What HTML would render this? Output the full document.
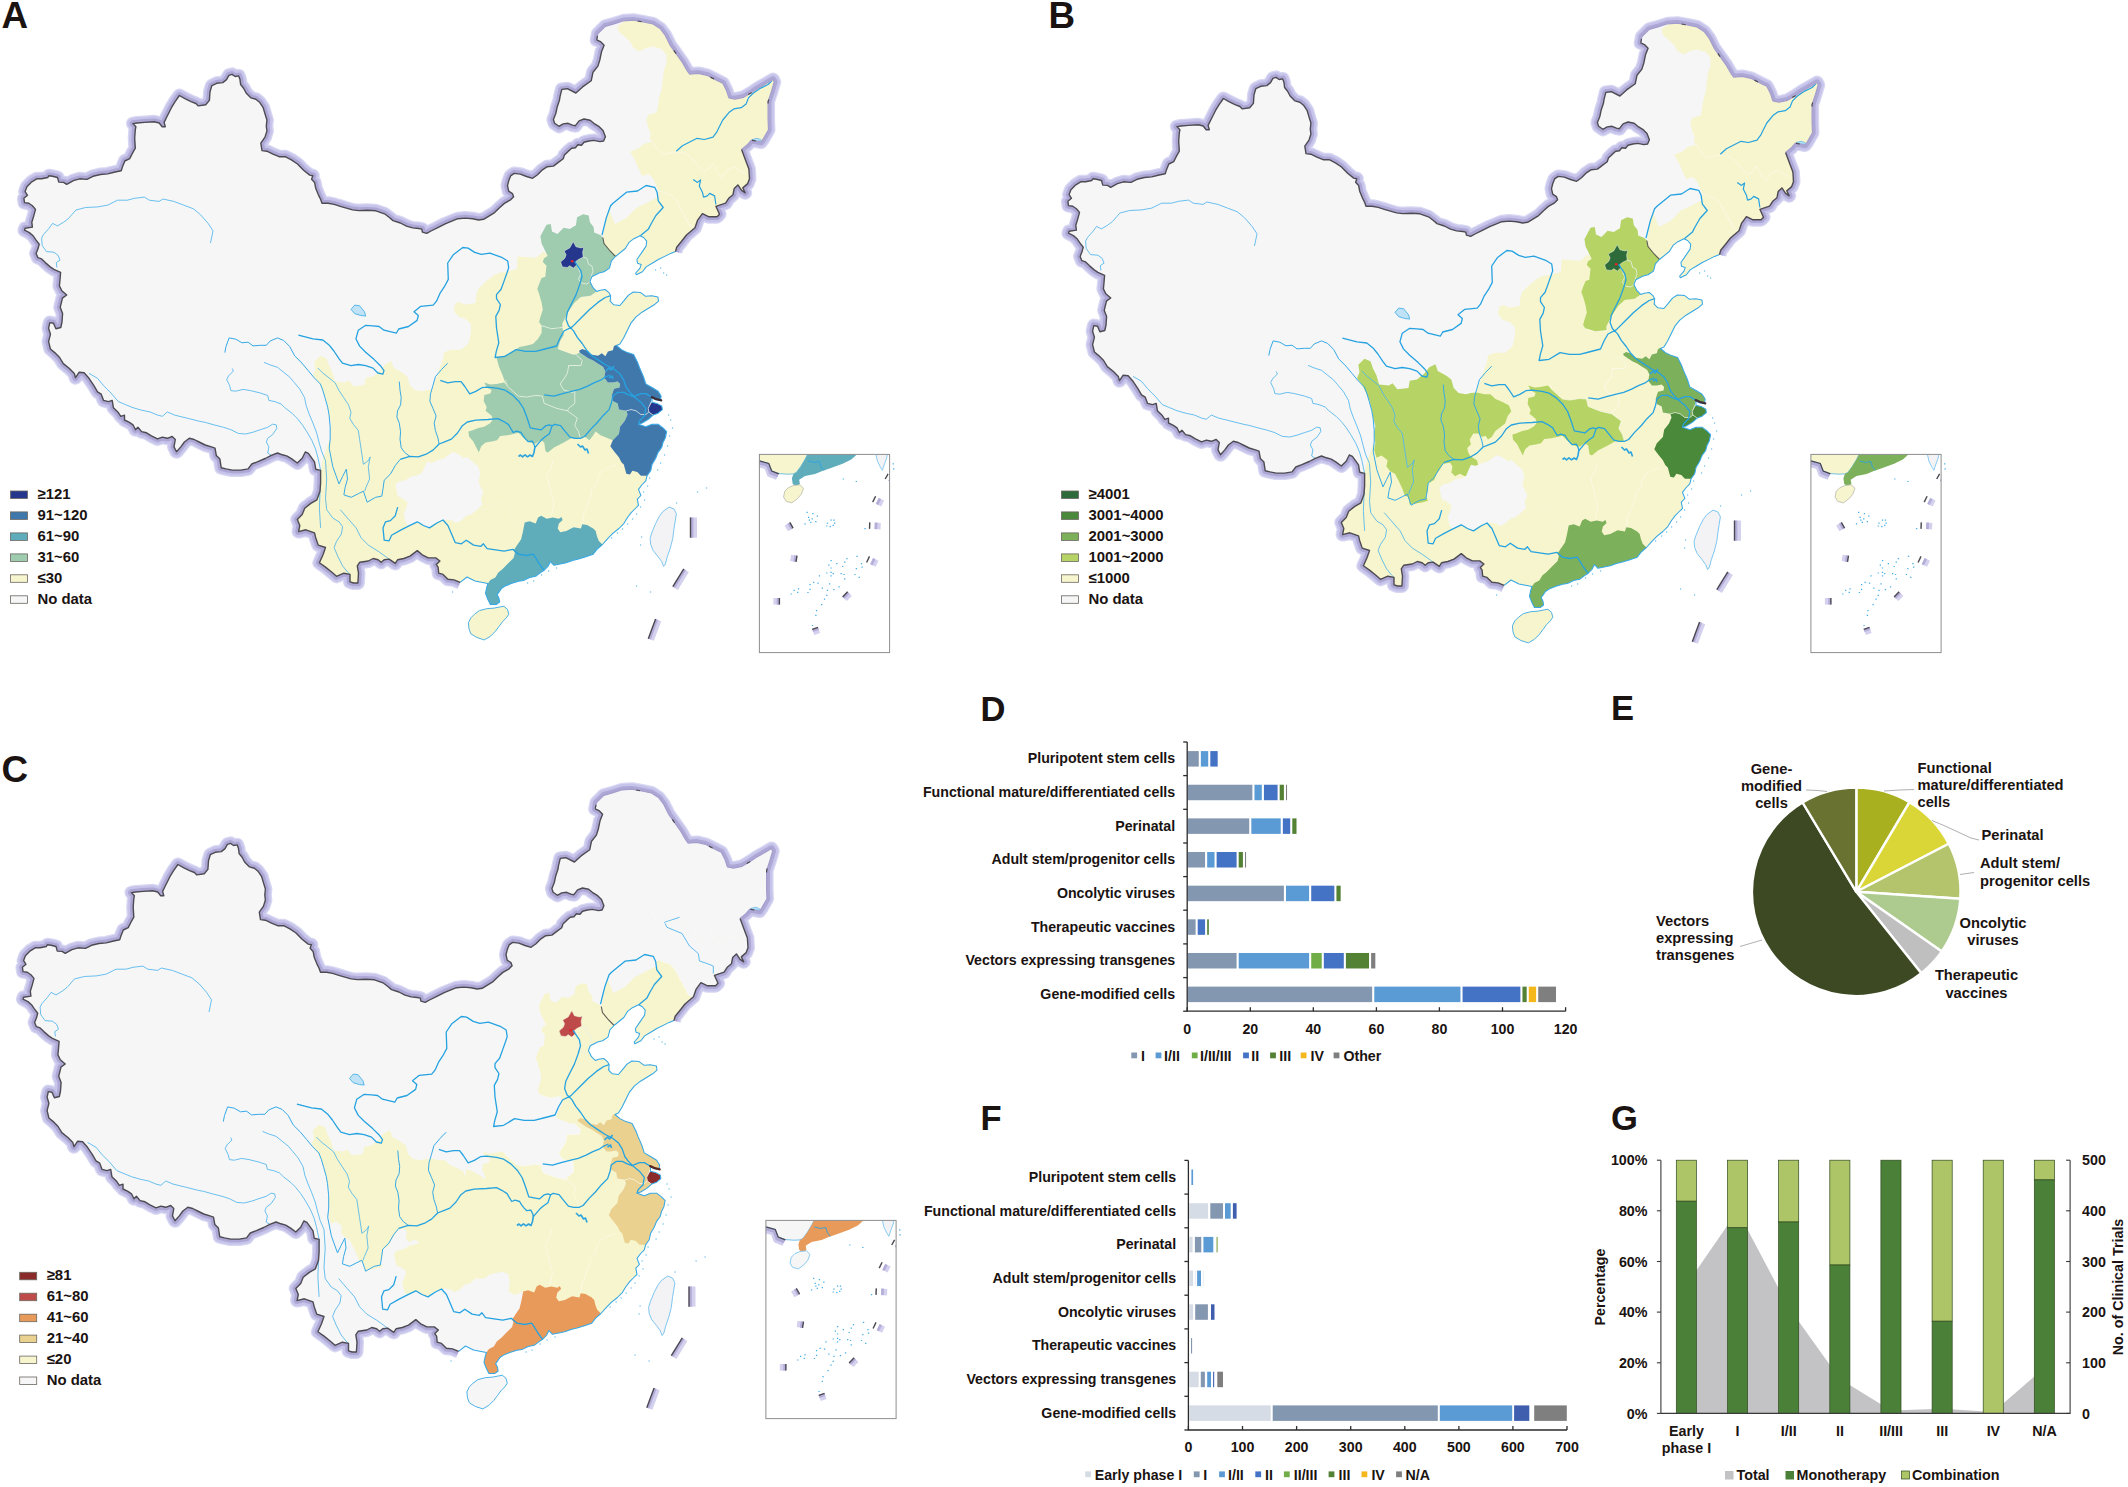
<!DOCTYPE html><html><head><meta charset="utf-8"><title>Figure</title><style>html,body{margin:0;padding:0;background:#fff}svg{display:block}</style></head><body>
<svg width="2128" height="1487" viewBox="0 0 2128 1487">
<rect width="2128" height="1487" fill="#fff"/>
<defs>
<clipPath id="cn"><path d="M23.9 198.3 L27.5 195.3 L25.1 191.6 L26.9 186.7 L31.8 181.8 L36.7 178.8 L41.6 178.8 L47.7 177.5 L49.0 175.7 L52.6 176.3 L57.5 177.5 L58.8 182.1 L63.6 182.4 L66.7 184.3 L73.4 180.6 L79.6 178.8 L86.9 179.4 L93.0 176.3 L100.4 174.5 L107.7 173.9 L115.1 172.0 L121.2 170.8 L122.4 167.1 L124.8 161.0 L129.7 158.6 L132.2 153.7 L135.3 148.1 L134.7 138.3 L135.3 129.8 L135.9 126.7 L132.9 123.6 L137.1 123.0 L144.5 122.4 L154.3 121.8 L159.2 123.0 L162.2 126.7 L165.3 126.7 L164.1 122.4 L166.5 117.5 L171.4 107.7 L175.1 101.6 L179.4 95.5 L184.9 98.6 L191.0 101.6 L195.9 103.5 L198.3 105.9 L205.7 104.7 L209.4 100.4 L210.0 91.8 L211.8 85.7 L216.7 83.3 L222.8 82.6 L226.5 79.6 L228.9 75.3 L232.0 74.4 L235.1 76.5 L238.7 75.9 L240.0 79.6 L240.6 84.5 L243.6 88.2 L246.1 93.0 L251.0 97.9 L255.9 99.2 L259.5 102.2 L263.2 107.7 L265.0 113.9 L266.9 120.0 L266.3 126.1 L266.9 131.0 L265.0 137.1 L260.8 143.2 L262.0 150.6 L266.9 151.2 L273.0 154.2 L279.1 156.7 L285.2 156.7 L291.4 159.8 L297.5 164.0 L303.6 170.2 L309.7 175.1 L312.8 175.7 L311.6 179.3 L314.6 182.4 L315.8 188.5 L318.3 194.6 L320.7 199.5 L322.0 203.2 L328.1 203.2 L334.2 204.4 L340.3 206.3 L346.4 208.1 L352.6 209.9 L358.7 210.6 L367.3 210.2 L375.9 210.8 L384.5 213.8 L389.4 217.5 L393.0 220.6 L400.4 223.0 L406.5 226.1 L412.6 227.9 L418.8 228.5 L421.8 229.1 L422.4 232.2 L426.7 233.4 L431.0 231.0 L438.3 227.3 L445.7 223.6 L453.0 220.6 L457.9 218.7 L465.3 218.1 L472.6 218.7 L478.7 220.0 L483.6 219.3 L488.5 216.3 L494.6 212.6 L499.5 207.7 L504.4 203.4 L510.6 199.8 L513.6 196.7 L512.4 193.6 L508.7 191.2 L507.5 185.7 L508.7 180.8 L510.6 175.9 L514.2 173.4 L520.3 174.1 L526.5 176.5 L532.6 178.3 L537.5 174.7 L542.4 169.8 L547.3 166.7 L553.4 166.1 L558.3 162.4 L563.2 158.8 L564.4 155.1 L568.1 151.4 L571.7 148.3 L575.4 147.7 L577.9 144.7 L581.5 145.3 L584.0 142.2 L588.9 141.0 L593.8 140.4 L599.9 141.6 L603.6 141.0 L605.4 136.7 L603.0 130.6 L598.7 126.3 L593.8 123.3 L590.1 120.2 L584.0 119.0 L579.1 120.8 L575.4 125.7 L572.4 125.1 L568.1 123.3 L563.2 123.9 L558.9 126.3 L554.6 123.3 L553.4 119.6 L555.8 113.5 L557.1 107.3 L559.5 100.0 L560.0 96.7 L561.8 89.4 L567.3 88.7 L575.9 93.0 L582.6 86.9 L591.2 80.8 L593.0 72.2 L597.9 66.1 L599.8 60.0 L601.6 51.4 L604.1 45.3 L600.4 41.6 L596.7 39.8 L597.9 33.7 L605.3 26.3 L613.9 23.9 L623.6 20.8 L633.4 20.2 L643.2 22.0 L653.0 23.9 L660.4 28.8 L665.3 35.5 L670.2 45.3 L676.3 53.9 L682.4 62.4 L687.3 71.0 L689.7 74.1 L698.3 73.4 L706.9 75.3 L715.4 79.6 L722.8 83.2 L726.5 90.6 L728.9 97.9 L735.0 99.1 L743.6 97.3 L750.9 93.0 L758.3 88.1 L766.8 83.2 L773.0 79.6 L774.2 82.0 L771.7 90.6 L768.1 101.6 L768.1 110.2 L768.1 120.0 L768.5 129.8 L763.6 138.4 L761.1 142.0 L751.4 140.2 L747.7 144.5 L741.6 149.4 L745.2 159.2 L748.9 169.0 L749.5 178.8 L747.7 183.6 L742.8 187.9 L745.2 192.8 L741.6 190.4 L737.9 184.9 L734.2 188.5 L733.0 194.7 L728.7 198.3 L725.6 203.2 L715.9 206.3 L719.5 214.2 L717.1 216.7 L708.5 216.7 L702.4 213.6 L697.5 220.4 L695.0 227.7 L686.5 235.0 L681.6 241.2 L676.7 247.3 L675.5 251.6 L670.6 253.4 L665.7 255.9 L658.3 259.5 L652.2 263.2 L646.1 266.9 L642.4 271.8 L636.3 274.8 L635.7 273.0 L640.0 268.1 L641.2 264.4 L637.5 263.2 L636.9 259.5 L641.2 253.4 L646.1 246.1 L646.7 241.2 L643.6 237.5 L640.0 235.7 L633.9 238.7 L629.0 242.4 L625.3 248.5 L615.5 256.5 L611.4 260.8 L609.5 268.1 L604.0 271.8 L599.1 273.0 L591.8 276.7 L589.9 281.6 L593.0 287.7 L596.7 291.4 L600.3 290.2 L605.2 289.5 L608.9 292.6 L610.7 295.7 L610.1 301.2 L613.8 304.8 L619.9 305.5 L623.6 301.2 L628.5 295.1 L633.4 292.0 L640.7 292.6 L645.6 296.3 L651.8 295.7 L657.9 296.9 L658.5 301.2 L654.2 304.8 L648.1 308.5 L642.0 312.2 L635.8 317.1 L630.9 323.2 L627.3 330.6 L623.6 337.9 L619.9 344.0 L616.5 345.5 L621.4 349.6 L627.5 352.6 L633.6 354.5 L637.3 361.8 L639.7 367.9 L643.4 376.5 L645.8 383.9 L652.0 387.5 L658.1 391.2 L661.1 396.1 L660.5 400.4 L655.6 399.8 L652.0 397.9 L652.0 402.2 L656.9 403.4 L661.7 405.9 L662.4 409.6 L658.1 413.2 L653.2 415.1 L648.3 419.4 L642.2 423.0 L638.5 424.2 L645.8 426.7 L652.0 424.2 L658.1 424.2 L663.0 427.9 L666.6 431.6 L665.4 437.7 L663.0 442.6 L661.7 447.5 L658.1 452.4 L655.6 458.5 L652.0 464.6 L650.7 470.8 L647.1 475.7 L645.8 480.8 L642.2 484.5 L638.5 489.4 L640.9 495.5 L637.3 499.2 L638.5 505.3 L634.8 509.0 L631.2 512.6 L627.5 517.5 L623.8 523.6 L618.9 528.5 L612.8 533.4 L607.9 538.3 L602.4 544.5 L596.9 549.4 L593.2 554.2 L585.9 556.7 L578.5 559.1 L572.4 560.4 L566.3 562.8 L560.2 564.0 L554.0 565.3 L550.4 561.6 L547.9 566.5 L544.2 570.2 L540.6 572.6 L535.7 576.3 L529.6 577.5 L523.4 580.6 L518.5 581.2 L511.2 583.6 L505.1 586.1 L501.4 588.5 L499.0 592.2 L497.1 594.6 L499.0 598.3 L499.6 602.0 L496.5 604.4 L490.4 604.4 L487.9 599.5 L485.5 593.4 L486.7 587.3 L487.9 583.6 L480.0 582.0 L475.0 581.0 L467.0 577.0 L460.1 582.4 L454.0 579.9 L447.9 579.3 L443.0 574.4 L438.7 573.2 L438.1 567.1 L436.3 564.6 L439.9 561.0 L435.7 557.9 L428.3 557.9 L422.2 554.8 L417.3 550.6 L410.0 556.1 L403.8 558.5 L397.7 559.7 L395.3 563.4 L389.1 559.1 L384.2 559.7 L381.2 562.2 L378.1 559.7 L373.2 558.5 L368.3 561.0 L359.8 562.2 L357.3 565.9 L358.5 573.2 L357.9 583.0 L353.6 583.0 L350.0 581.8 L350.0 574.4 L343.9 573.2 L336.5 576.3 L331.6 572.0 L325.5 567.1 L319.4 562.8 L323.0 554.8 L325.5 547.5 L318.2 545.1 L315.7 537.7 L314.5 532.8 L305.9 529.8 L298.6 531.6 L299.8 525.5 L297.3 519.4 L302.2 514.5 L304.7 508.3 L310.8 503.4 L316.9 499.8 L320.0 491.2 L320.6 482.6 L320.6 470.4 L315.7 469.2 L314.5 461.8 L308.4 453.3 L305.3 452.0 L302.2 458.2 L297.3 463.0 L292.1 459.1 L287.2 456.1 L282.4 454.8 L277.5 453.0 L271.3 455.4 L265.2 458.5 L257.9 461.6 L251.8 464.0 L248.1 468.9 L240.7 470.1 L232.2 470.1 L226.0 468.9 L221.2 467.7 L219.9 459.1 L216.3 455.4 L215.0 448.1 L211.4 446.9 L205.2 445.0 L199.1 442.0 L194.2 439.5 L189.3 438.3 L184.4 442.0 L180.8 446.9 L176.5 451.8 L174.0 446.9 L175.3 439.5 L172.2 436.5 L167.3 438.3 L162.4 437.1 L157.5 438.9 L151.4 435.9 L146.5 432.8 L141.6 431.6 L137.9 427.3 L135.5 429.7 L133.0 424.8 L129.4 422.4 L124.5 420.0 L124.5 415.1 L120.8 416.3 L118.3 412.6 L113.4 407.7 L112.2 400.4 L108.5 401.6 L103.6 400.4 L101.2 394.2 L97.5 391.8 L93.9 385.7 L89.0 378.3 L84.1 372.8 L79.2 372.2 L75.5 377.7 L74.3 373.4 L69.4 368.5 L63.3 363.6 L59.6 357.5 L54.7 352.6 L50.4 349.0 L48.6 341.6 L50.4 334.3 L48.6 328.2 L49.8 322.6 L53.5 323.3 L55.9 328.8 L60.8 327.5 L62.0 322.0 L62.6 313.5 L60.2 307.3 L62.0 300.0 L62.4 298.1 L66.7 295.0 L61.8 290.8 L59.4 285.9 L60.0 279.7 L60.6 272.4 L53.9 269.3 L50.2 266.9 L45.3 262.6 L41.6 258.9 L37.9 257.7 L36.1 253.4 L37.9 249.1 L39.2 244.2 L35.5 239.4 L33.0 235.7 L29.4 232.6 L24.5 230.2 L25.1 228.3 L32.4 227.1 L31.8 222.2 L33.7 216.1 L35.5 209.4 L32.4 205.7 L28.8 203.2 L24.5 202.6Z"/></clipPath>
<path id="countryp" d="M23.9 198.3 L27.5 195.3 L25.1 191.6 L26.9 186.7 L31.8 181.8 L36.7 178.8 L41.6 178.8 L47.7 177.5 L49.0 175.7 L52.6 176.3 L57.5 177.5 L58.8 182.1 L63.6 182.4 L66.7 184.3 L73.4 180.6 L79.6 178.8 L86.9 179.4 L93.0 176.3 L100.4 174.5 L107.7 173.9 L115.1 172.0 L121.2 170.8 L122.4 167.1 L124.8 161.0 L129.7 158.6 L132.2 153.7 L135.3 148.1 L134.7 138.3 L135.3 129.8 L135.9 126.7 L132.9 123.6 L137.1 123.0 L144.5 122.4 L154.3 121.8 L159.2 123.0 L162.2 126.7 L165.3 126.7 L164.1 122.4 L166.5 117.5 L171.4 107.7 L175.1 101.6 L179.4 95.5 L184.9 98.6 L191.0 101.6 L195.9 103.5 L198.3 105.9 L205.7 104.7 L209.4 100.4 L210.0 91.8 L211.8 85.7 L216.7 83.3 L222.8 82.6 L226.5 79.6 L228.9 75.3 L232.0 74.4 L235.1 76.5 L238.7 75.9 L240.0 79.6 L240.6 84.5 L243.6 88.2 L246.1 93.0 L251.0 97.9 L255.9 99.2 L259.5 102.2 L263.2 107.7 L265.0 113.9 L266.9 120.0 L266.3 126.1 L266.9 131.0 L265.0 137.1 L260.8 143.2 L262.0 150.6 L266.9 151.2 L273.0 154.2 L279.1 156.7 L285.2 156.7 L291.4 159.8 L297.5 164.0 L303.6 170.2 L309.7 175.1 L312.8 175.7 L311.6 179.3 L314.6 182.4 L315.8 188.5 L318.3 194.6 L320.7 199.5 L322.0 203.2 L328.1 203.2 L334.2 204.4 L340.3 206.3 L346.4 208.1 L352.6 209.9 L358.7 210.6 L367.3 210.2 L375.9 210.8 L384.5 213.8 L389.4 217.5 L393.0 220.6 L400.4 223.0 L406.5 226.1 L412.6 227.9 L418.8 228.5 L421.8 229.1 L422.4 232.2 L426.7 233.4 L431.0 231.0 L438.3 227.3 L445.7 223.6 L453.0 220.6 L457.9 218.7 L465.3 218.1 L472.6 218.7 L478.7 220.0 L483.6 219.3 L488.5 216.3 L494.6 212.6 L499.5 207.7 L504.4 203.4 L510.6 199.8 L513.6 196.7 L512.4 193.6 L508.7 191.2 L507.5 185.7 L508.7 180.8 L510.6 175.9 L514.2 173.4 L520.3 174.1 L526.5 176.5 L532.6 178.3 L537.5 174.7 L542.4 169.8 L547.3 166.7 L553.4 166.1 L558.3 162.4 L563.2 158.8 L564.4 155.1 L568.1 151.4 L571.7 148.3 L575.4 147.7 L577.9 144.7 L581.5 145.3 L584.0 142.2 L588.9 141.0 L593.8 140.4 L599.9 141.6 L603.6 141.0 L605.4 136.7 L603.0 130.6 L598.7 126.3 L593.8 123.3 L590.1 120.2 L584.0 119.0 L579.1 120.8 L575.4 125.7 L572.4 125.1 L568.1 123.3 L563.2 123.9 L558.9 126.3 L554.6 123.3 L553.4 119.6 L555.8 113.5 L557.1 107.3 L559.5 100.0 L560.0 96.7 L561.8 89.4 L567.3 88.7 L575.9 93.0 L582.6 86.9 L591.2 80.8 L593.0 72.2 L597.9 66.1 L599.8 60.0 L601.6 51.4 L604.1 45.3 L600.4 41.6 L596.7 39.8 L597.9 33.7 L605.3 26.3 L613.9 23.9 L623.6 20.8 L633.4 20.2 L643.2 22.0 L653.0 23.9 L660.4 28.8 L665.3 35.5 L670.2 45.3 L676.3 53.9 L682.4 62.4 L687.3 71.0 L689.7 74.1 L698.3 73.4 L706.9 75.3 L715.4 79.6 L722.8 83.2 L726.5 90.6 L728.9 97.9 L735.0 99.1 L743.6 97.3 L750.9 93.0 L758.3 88.1 L766.8 83.2 L773.0 79.6 L774.2 82.0 L771.7 90.6 L768.1 101.6 L768.1 110.2 L768.1 120.0 L768.5 129.8 L763.6 138.4 L761.1 142.0 L751.4 140.2 L747.7 144.5 L741.6 149.4 L745.2 159.2 L748.9 169.0 L749.5 178.8 L747.7 183.6 L742.8 187.9 L745.2 192.8 L741.6 190.4 L737.9 184.9 L734.2 188.5 L733.0 194.7 L728.7 198.3 L725.6 203.2 L715.9 206.3 L719.5 214.2 L717.1 216.7 L708.5 216.7 L702.4 213.6 L697.5 220.4 L695.0 227.7 L686.5 235.0 L681.6 241.2 L676.7 247.3 L675.5 251.6 L670.6 253.4 L665.7 255.9 L658.3 259.5 L652.2 263.2 L646.1 266.9 L642.4 271.8 L636.3 274.8 L635.7 273.0 L640.0 268.1 L641.2 264.4 L637.5 263.2 L636.9 259.5 L641.2 253.4 L646.1 246.1 L646.7 241.2 L643.6 237.5 L640.0 235.7 L633.9 238.7 L629.0 242.4 L625.3 248.5 L615.5 256.5 L611.4 260.8 L609.5 268.1 L604.0 271.8 L599.1 273.0 L591.8 276.7 L589.9 281.6 L593.0 287.7 L596.7 291.4 L600.3 290.2 L605.2 289.5 L608.9 292.6 L610.7 295.7 L610.1 301.2 L613.8 304.8 L619.9 305.5 L623.6 301.2 L628.5 295.1 L633.4 292.0 L640.7 292.6 L645.6 296.3 L651.8 295.7 L657.9 296.9 L658.5 301.2 L654.2 304.8 L648.1 308.5 L642.0 312.2 L635.8 317.1 L630.9 323.2 L627.3 330.6 L623.6 337.9 L619.9 344.0 L616.5 345.5 L621.4 349.6 L627.5 352.6 L633.6 354.5 L637.3 361.8 L639.7 367.9 L643.4 376.5 L645.8 383.9 L652.0 387.5 L658.1 391.2 L661.1 396.1 L660.5 400.4 L655.6 399.8 L652.0 397.9 L652.0 402.2 L656.9 403.4 L661.7 405.9 L662.4 409.6 L658.1 413.2 L653.2 415.1 L648.3 419.4 L642.2 423.0 L638.5 424.2 L645.8 426.7 L652.0 424.2 L658.1 424.2 L663.0 427.9 L666.6 431.6 L665.4 437.7 L663.0 442.6 L661.7 447.5 L658.1 452.4 L655.6 458.5 L652.0 464.6 L650.7 470.8 L647.1 475.7 L645.8 480.8 L642.2 484.5 L638.5 489.4 L640.9 495.5 L637.3 499.2 L638.5 505.3 L634.8 509.0 L631.2 512.6 L627.5 517.5 L623.8 523.6 L618.9 528.5 L612.8 533.4 L607.9 538.3 L602.4 544.5 L596.9 549.4 L593.2 554.2 L585.9 556.7 L578.5 559.1 L572.4 560.4 L566.3 562.8 L560.2 564.0 L554.0 565.3 L550.4 561.6 L547.9 566.5 L544.2 570.2 L540.6 572.6 L535.7 576.3 L529.6 577.5 L523.4 580.6 L518.5 581.2 L511.2 583.6 L505.1 586.1 L501.4 588.5 L499.0 592.2 L497.1 594.6 L499.0 598.3 L499.6 602.0 L496.5 604.4 L490.4 604.4 L487.9 599.5 L485.5 593.4 L486.7 587.3 L487.9 583.6 L480.0 582.0 L475.0 581.0 L467.0 577.0 L460.1 582.4 L454.0 579.9 L447.9 579.3 L443.0 574.4 L438.7 573.2 L438.1 567.1 L436.3 564.6 L439.9 561.0 L435.7 557.9 L428.3 557.9 L422.2 554.8 L417.3 550.6 L410.0 556.1 L403.8 558.5 L397.7 559.7 L395.3 563.4 L389.1 559.1 L384.2 559.7 L381.2 562.2 L378.1 559.7 L373.2 558.5 L368.3 561.0 L359.8 562.2 L357.3 565.9 L358.5 573.2 L357.9 583.0 L353.6 583.0 L350.0 581.8 L350.0 574.4 L343.9 573.2 L336.5 576.3 L331.6 572.0 L325.5 567.1 L319.4 562.8 L323.0 554.8 L325.5 547.5 L318.2 545.1 L315.7 537.7 L314.5 532.8 L305.9 529.8 L298.6 531.6 L299.8 525.5 L297.3 519.4 L302.2 514.5 L304.7 508.3 L310.8 503.4 L316.9 499.8 L320.0 491.2 L320.6 482.6 L320.6 470.4 L315.7 469.2 L314.5 461.8 L308.4 453.3 L305.3 452.0 L302.2 458.2 L297.3 463.0 L292.1 459.1 L287.2 456.1 L282.4 454.8 L277.5 453.0 L271.3 455.4 L265.2 458.5 L257.9 461.6 L251.8 464.0 L248.1 468.9 L240.7 470.1 L232.2 470.1 L226.0 468.9 L221.2 467.7 L219.9 459.1 L216.3 455.4 L215.0 448.1 L211.4 446.9 L205.2 445.0 L199.1 442.0 L194.2 439.5 L189.3 438.3 L184.4 442.0 L180.8 446.9 L176.5 451.8 L174.0 446.9 L175.3 439.5 L172.2 436.5 L167.3 438.3 L162.4 437.1 L157.5 438.9 L151.4 435.9 L146.5 432.8 L141.6 431.6 L137.9 427.3 L135.5 429.7 L133.0 424.8 L129.4 422.4 L124.5 420.0 L124.5 415.1 L120.8 416.3 L118.3 412.6 L113.4 407.7 L112.2 400.4 L108.5 401.6 L103.6 400.4 L101.2 394.2 L97.5 391.8 L93.9 385.7 L89.0 378.3 L84.1 372.8 L79.2 372.2 L75.5 377.7 L74.3 373.4 L69.4 368.5 L63.3 363.6 L59.6 357.5 L54.7 352.6 L50.4 349.0 L48.6 341.6 L50.4 334.3 L48.6 328.2 L49.8 322.6 L53.5 323.3 L55.9 328.8 L60.8 327.5 L62.0 322.0 L62.6 313.5 L60.2 307.3 L62.0 300.0 L62.4 298.1 L66.7 295.0 L61.8 290.8 L59.4 285.9 L60.0 279.7 L60.6 272.4 L53.9 269.3 L50.2 266.9 L45.3 262.6 L41.6 258.9 L37.9 257.7 L36.1 253.4 L37.9 249.1 L39.2 244.2 L35.5 239.4 L33.0 235.7 L29.4 232.6 L24.5 230.2 L25.1 228.3 L32.4 227.1 L31.8 222.2 L33.7 216.1 L35.5 209.4 L32.4 205.7 L28.8 203.2 L24.5 202.6Z"/>
<path id="landb" d="M460.1 582.4 L454.0 579.9 L447.9 579.3 L443.0 574.4 L438.7 573.2 L438.1 567.1 L436.3 564.6 L439.9 561.0 L435.7 557.9 L428.3 557.9 L422.2 554.8 L417.3 550.6 L410.0 556.1 L403.8 558.5 L397.7 559.7 L395.3 563.4 L389.1 559.1 L384.2 559.7 L381.2 562.2 L378.1 559.7 L373.2 558.5 L368.3 561.0 L359.8 562.2 L357.3 565.9 L358.5 573.2 L357.9 583.0 L353.6 583.0 L350.0 581.8 L350.0 574.4 L343.9 573.2 L336.5 576.3 L331.6 572.0 L325.5 567.1 L319.4 562.8 L323.0 554.8 L325.5 547.5 L318.2 545.1 L315.7 537.7 L314.5 532.8 L305.9 529.8 L298.6 531.6 L299.8 525.5 L297.3 519.4 L302.2 514.5 L304.7 508.3 L310.8 503.4 L316.9 499.8 L320.0 491.2 L320.6 482.6 L320.6 470.4 L315.7 469.2 L314.5 461.8 L308.4 453.3 L305.3 452.0 L302.2 458.2 L297.3 463.0 L292.1 459.1 L287.2 456.1 L282.4 454.8 L277.5 453.0 L271.3 455.4 L265.2 458.5 L257.9 461.6 L251.8 464.0 L248.1 468.9 L240.7 470.1 L232.2 470.1 L226.0 468.9 L221.2 467.7 L219.9 459.1 L216.3 455.4 L215.0 448.1 L211.4 446.9 L205.2 445.0 L199.1 442.0 L194.2 439.5 L189.3 438.3 L184.4 442.0 L180.8 446.9 L176.5 451.8 L174.0 446.9 L175.3 439.5 L172.2 436.5 L167.3 438.3 L162.4 437.1 L157.5 438.9 L151.4 435.9 L146.5 432.8 L141.6 431.6 L137.9 427.3 L135.5 429.7 L133.0 424.8 L129.4 422.4 L124.5 420.0 L124.5 415.1 L120.8 416.3 L118.3 412.6 L113.4 407.7 L112.2 400.4 L108.5 401.6 L103.6 400.4 L101.2 394.2 L97.5 391.8 L93.9 385.7 L89.0 378.3 L84.1 372.8 L79.2 372.2 L75.5 377.7 L74.3 373.4 L69.4 368.5 L63.3 363.6 L59.6 357.5 L54.7 352.6 L50.4 349.0 L48.6 341.6 L50.4 334.3 L48.6 328.2 L49.8 322.6 L53.5 323.3 L55.9 328.8 L60.8 327.5 L62.0 322.0 L62.6 313.5 L60.2 307.3 L62.0 300.0 L62.4 298.1 L66.7 295.0 L61.8 290.8 L59.4 285.9 L60.0 279.7 L60.6 272.4 L53.9 269.3 L50.2 266.9 L45.3 262.6 L41.6 258.9 L37.9 257.7 L36.1 253.4 L37.9 249.1 L39.2 244.2 L35.5 239.4 L33.0 235.7 L29.4 232.6 L24.5 230.2 L25.1 228.3 L32.4 227.1 L31.8 222.2 L33.7 216.1 L35.5 209.4 L32.4 205.7 L28.8 203.2 L24.5 202.6 L23.9 198.3 L27.5 195.3 L25.1 191.6 L26.9 186.7 L31.8 181.8 L36.7 178.8 L41.6 178.8 L47.7 177.5 L49.0 175.7 L52.6 176.3 L57.5 177.5 L58.8 182.1 L63.6 182.4 L66.7 184.3 L73.4 180.6 L79.6 178.8 L86.9 179.4 L93.0 176.3 L100.4 174.5 L107.7 173.9 L115.1 172.0 L121.2 170.8 L122.4 167.1 L124.8 161.0 L129.7 158.6 L132.2 153.7 L135.3 148.1 L134.7 138.3 L135.3 129.8 L135.9 126.7 L132.9 123.6 L137.1 123.0 L144.5 122.4 L154.3 121.8 L159.2 123.0 L162.2 126.7 L165.3 126.7 L164.1 122.4 L166.5 117.5 L171.4 107.7 L175.1 101.6 L179.4 95.5 L184.9 98.6 L191.0 101.6 L195.9 103.5 L198.3 105.9 L205.7 104.7 L209.4 100.4 L210.0 91.8 L211.8 85.7 L216.7 83.3 L222.8 82.6 L226.5 79.6 L228.9 75.3 L232.0 74.4 L235.1 76.5 L238.7 75.9 L240.0 79.6 L240.6 84.5 L243.6 88.2 L246.1 93.0 L251.0 97.9 L255.9 99.2 L259.5 102.2 L263.2 107.7 L265.0 113.9 L266.9 120.0 L266.3 126.1 L266.9 131.0 L265.0 137.1 L260.8 143.2 L262.0 150.6 L266.9 151.2 L273.0 154.2 L279.1 156.7 L285.2 156.7 L291.4 159.8 L297.5 164.0 L303.6 170.2 L309.7 175.1 L312.8 175.7 L311.6 179.3 L314.6 182.4 L315.8 188.5 L318.3 194.6 L320.7 199.5 L322.0 203.2 L328.1 203.2 L334.2 204.4 L340.3 206.3 L346.4 208.1 L352.6 209.9 L358.7 210.6 L367.3 210.2 L375.9 210.8 L384.5 213.8 L389.4 217.5 L393.0 220.6 L400.4 223.0 L406.5 226.1 L412.6 227.9 L418.8 228.5 L421.8 229.1 L422.4 232.2 L426.7 233.4 L431.0 231.0 L438.3 227.3 L445.7 223.6 L453.0 220.6 L457.9 218.7 L465.3 218.1 L472.6 218.7 L478.7 220.0 L483.6 219.3 L488.5 216.3 L494.6 212.6 L499.5 207.7 L504.4 203.4 L510.6 199.8 L513.6 196.7 L512.4 193.6 L508.7 191.2 L507.5 185.7 L508.7 180.8 L510.6 175.9 L514.2 173.4 L520.3 174.1 L526.5 176.5 L532.6 178.3 L537.5 174.7 L542.4 169.8 L547.3 166.7 L553.4 166.1 L558.3 162.4 L563.2 158.8 L564.4 155.1 L568.1 151.4 L571.7 148.3 L575.4 147.7 L577.9 144.7 L581.5 145.3 L584.0 142.2 L588.9 141.0 L593.8 140.4 L599.9 141.6 L603.6 141.0 L605.4 136.7 L603.0 130.6 L598.7 126.3 L593.8 123.3 L590.1 120.2 L584.0 119.0 L579.1 120.8 L575.4 125.7 L572.4 125.1 L568.1 123.3 L563.2 123.9 L558.9 126.3 L554.6 123.3 L553.4 119.6 L555.8 113.5 L557.1 107.3 L559.5 100.0 L560.0 96.7 L561.8 89.4 L567.3 88.7 L575.9 93.0 L582.6 86.9 L591.2 80.8 L593.0 72.2 L597.9 66.1 L599.8 60.0 L601.6 51.4 L604.1 45.3 L600.4 41.6 L596.7 39.8 L597.9 33.7 L605.3 26.3 L613.9 23.9 L623.6 20.8 L633.4 20.2 L643.2 22.0 L653.0 23.9 L660.4 28.8 L665.3 35.5 L670.2 45.3 L676.3 53.9 L682.4 62.4 L687.3 71.0 L689.7 74.1 L698.3 73.4 L706.9 75.3 L715.4 79.6 L722.8 83.2 L726.5 90.6 L728.9 97.9 L735.0 99.1 L743.6 97.3 L750.9 93.0 L758.3 88.1 L766.8 83.2 L773.0 79.6 L774.2 82.0 L771.7 90.6 L768.1 101.6 L768.1 110.2 L768.1 120.0 L768.5 129.8 L763.6 138.4 L761.1 142.0 L751.4 140.2 L747.7 144.5 L741.6 149.4 L745.2 159.2 L748.9 169.0 L749.5 178.8 L747.7 183.6 L742.8 187.9 L745.2 192.8 L741.6 190.4 L737.9 184.9 L734.2 188.5 L733.0 194.7 L728.7 198.3 L725.6 203.2 L715.9 206.3 L719.5 214.2 L717.1 216.7 L708.5 216.7 L702.4 213.6 L697.5 220.4 L695.0 227.7 L686.5 235.0 L681.6 241.2 L676.7 247.3 L675.5 251.6" fill="none"/>
<path id="landb1" d="M460.1 582.4 L454.0 579.9 L447.9 579.3 L443.0 574.4 L438.7 573.2 L438.1 567.1 L436.3 564.6 L439.9 561.0 L435.7 557.9 L428.3 557.9 L422.2 554.8 L417.3 550.6 L410.0 556.1 L403.8 558.5 L397.7 559.7 L395.3 563.4 L389.1 559.1 L384.2 559.7 L381.2 562.2 L378.1 559.7 L373.2 558.5 L368.3 561.0 L359.8 562.2 L357.3 565.9 L358.5 573.2 L357.9 583.0 L353.6 583.0 L350.0 581.8 L350.0 574.4 L343.9 573.2 L336.5 576.3 L331.6 572.0 L325.5 567.1 L319.4 562.8 L323.0 554.8 L325.5 547.5 L318.2 545.1 L315.7 537.7 L314.5 532.8 L305.9 529.8 L298.6 531.6 L299.8 525.5 L297.3 519.4 L302.2 514.5 L304.7 508.3 L310.8 503.4 L316.9 499.8 L320.0 491.2 L320.6 482.6 L320.6 470.4 L315.7 469.2 L314.5 461.8 L308.4 453.3 L305.3 452.0 L302.2 458.2 L297.3 463.0 L292.1 459.1 L287.2 456.1 L282.4 454.8 L277.5 453.0 L271.3 455.4 L265.2 458.5 L257.9 461.6 L251.8 464.0 L248.1 468.9 L240.7 470.1 L232.2 470.1 L226.0 468.9 L221.2 467.7 L219.9 459.1 L216.3 455.4 L215.0 448.1 L211.4 446.9 L205.2 445.0 L199.1 442.0 L194.2 439.5 L189.3 438.3 L184.4 442.0 L180.8 446.9 L176.5 451.8 L174.0 446.9 L175.3 439.5 L172.2 436.5 L167.3 438.3 L162.4 437.1 L157.5 438.9 L151.4 435.9 L146.5 432.8 L141.6 431.6 L137.9 427.3 L135.5 429.7 L133.0 424.8 L129.4 422.4 L124.5 420.0 L124.5 415.1 L120.8 416.3 L118.3 412.6 L113.4 407.7 L112.2 400.4 L108.5 401.6 L103.6 400.4 L101.2 394.2 L97.5 391.8 L93.9 385.7 L89.0 378.3 L84.1 372.8 L79.2 372.2 L75.5 377.7 L74.3 373.4 L69.4 368.5 L63.3 363.6 L59.6 357.5 L54.7 352.6 L50.4 349.0 L48.6 341.6 L50.4 334.3 L48.6 328.2 L49.8 322.6 L53.5 323.3 L55.9 328.8 L60.8 327.5 L62.0 322.0 L62.6 313.5 L60.2 307.3 L62.0 300.0 L62.4 298.1 L66.7 295.0 L61.8 290.8 L59.4 285.9 L60.0 279.7 L60.6 272.4 L53.9 269.3 L50.2 266.9 L45.3 262.6 L41.6 258.9 L37.9 257.7 L36.1 253.4 L37.9 249.1 L39.2 244.2 L35.5 239.4 L33.0 235.7 L29.4 232.6 L24.5 230.2 L25.1 228.3 L32.4 227.1 L31.8 222.2 L33.7 216.1 L35.5 209.4 L32.4 205.7 L28.8 203.2 L24.5 202.6 L23.9 198.3 L27.5 195.3 L25.1 191.6 L26.9 186.7 L31.8 181.8 L36.7 178.8 L41.6 178.8 L47.7 177.5 L49.0 175.7 L52.6 176.3 L57.5 177.5 L58.8 182.1 L63.6 182.4 L66.7 184.3 L73.4 180.6 L79.6 178.8 L86.9 179.4 L93.0 176.3 L100.4 174.5 L107.7 173.9 L115.1 172.0 L121.2 170.8 L122.4 167.1 L124.8 161.0 L129.7 158.6 L132.2 153.7 L135.3 148.1 L134.7 138.3 L135.3 129.8 L135.9 126.7 L132.9 123.6 L137.1 123.0 L144.5 122.4 L154.3 121.8 L159.2 123.0 L162.2 126.7 L165.3 126.7 L164.1 122.4 L166.5 117.5 L171.4 107.7 L175.1 101.6 L179.4 95.5 L184.9 98.6 L191.0 101.6 L195.9 103.5 L198.3 105.9 L205.7 104.7 L209.4 100.4 L210.0 91.8 L211.8 85.7 L216.7 83.3 L222.8 82.6 L226.5 79.6 L228.9 75.3 L232.0 74.4 L235.1 76.5 L238.7 75.9 L240.0 79.6 L240.6 84.5 L243.6 88.2 L246.1 93.0 L251.0 97.9 L255.9 99.2 L259.5 102.2 L263.2 107.7 L265.0 113.9 L266.9 120.0 L266.3 126.1 L266.9 131.0 L265.0 137.1 L260.8 143.2 L262.0 150.6 L266.9 151.2 L273.0 154.2 L279.1 156.7 L285.2 156.7 L291.4 159.8 L297.5 164.0 L303.6 170.2 L309.7 175.1 L312.8 175.7 L311.6 179.3 L314.6 182.4 L315.8 188.5 L318.3 194.6 L320.7 199.5 L322.0 203.2 L328.1 203.2 L334.2 204.4 L340.3 206.3 L346.4 208.1 L352.6 209.9 L358.7 210.6 L367.3 210.2 L375.9 210.8 L384.5 213.8 L389.4 217.5 L393.0 220.6 L400.4 223.0 L406.5 226.1 L412.6 227.9 L418.8 228.5 L421.8 229.1 L422.4 232.2 L426.7 233.4 L431.0 231.0 L438.3 227.3 L445.7 223.6 L453.0 220.6 L457.9 218.7 L465.3 218.1 L472.6 218.7 L478.7 220.0 L483.6 219.3 L488.5 216.3 L494.6 212.6 L499.5 207.7 L504.4 203.4 L510.6 199.8 L513.6 196.7 L512.4 193.6 L508.7 191.2 L507.5 185.7 L508.7 180.8 L510.6 175.9 L514.2 173.4 L520.3 174.1 L526.5 176.5 L532.6 178.3 L537.5 174.7 L542.4 169.8 L547.3 166.7 L553.4 166.1 L558.3 162.4 L563.2 158.8 L564.4 155.1 L568.1 151.4 L571.7 148.3 L575.4 147.7 L577.9 144.7 L581.5 145.3 L584.0 142.2 L588.9 141.0 L593.8 140.4 L599.9 141.6 L603.6 141.0 L605.4 136.7 L603.0 130.6 L598.7 126.3 L593.8 123.3 L590.1 120.2 L584.0 119.0 L579.1 120.8 L575.4 125.7 L572.4 125.1 L568.1 123.3 L563.2 123.9 L558.9 126.3 L554.6 123.3 L553.4 119.6 L555.8 113.5 L557.1 107.3 L559.5 100.0 L560.0 96.7 L561.8 89.4 L567.3 88.7 L575.9 93.0 L582.6 86.9 L591.2 80.8 L593.0 72.2 L597.9 66.1 L599.8 60.0 L601.6 51.4 L604.1 45.3 L600.4 41.6 L596.7 39.8" fill="none"/>
<path id="landb2" d="M596.7 39.8 L597.9 33.7 L605.3 26.3 L613.9 23.9 L623.6 20.8 L633.4 20.2 L643.2 22.0 L653.0 23.9 L660.4 28.8 L665.3 35.5 L670.2 45.3 L676.3 53.9 L682.4 62.4 L687.3 71.0 L689.7 74.1 L698.3 73.4 L706.9 75.3 L715.4 79.6 L722.8 83.2 L726.5 90.6 L728.9 97.9 L735.0 99.1 L743.6 97.3 L750.9 93.0 L758.3 88.1 L766.8 83.2 L773.0 79.6 L774.2 82.0 L771.7 90.6 L768.1 101.6 L768.1 110.2 L768.1 120.0 L768.5 129.8 L763.6 138.4 L761.1 142.0 L751.4 140.2 L747.7 144.5 L741.6 149.4" fill="none"/>
<path id="landb3" d="M741.6 149.4 L745.2 159.2 L748.9 169.0 L749.5 178.8 L747.7 183.6 L742.8 187.9 L745.2 192.8 L741.6 190.4 L737.9 184.9 L734.2 188.5 L733.0 194.7 L728.7 198.3 L725.6 203.2 L715.9 206.3 L719.5 214.2 L717.1 216.7 L708.5 216.7 L702.4 213.6 L697.5 220.4 L695.0 227.7 L686.5 235.0 L681.6 241.2 L676.7 247.3 L675.5 251.6" fill="none"/>
<path id="coastp" d="M675.5 251.6 L670.6 253.4 L665.7 255.9 L658.3 259.5 L652.2 263.2 L646.1 266.9 L642.4 271.8 L636.3 274.8 L635.7 273.0 L640.0 268.1 L641.2 264.4 L637.5 263.2 L636.9 259.5 L641.2 253.4 L646.1 246.1 L646.7 241.2 L643.6 237.5 L640.0 235.7 L633.9 238.7 L629.0 242.4 L625.3 248.5 L615.5 256.5 L611.4 260.8 L609.5 268.1 L604.0 271.8 L599.1 273.0 L591.8 276.7 L589.9 281.6 L593.0 287.7 L596.7 291.4 L600.3 290.2 L605.2 289.5 L608.9 292.6 L610.7 295.7 L610.1 301.2 L613.8 304.8 L619.9 305.5 L623.6 301.2 L628.5 295.1 L633.4 292.0 L640.7 292.6 L645.6 296.3 L651.8 295.7 L657.9 296.9 L658.5 301.2 L654.2 304.8 L648.1 308.5 L642.0 312.2 L635.8 317.1 L630.9 323.2 L627.3 330.6 L623.6 337.9 L619.9 344.0 L616.5 345.5 L621.4 349.6 L627.5 352.6 L633.6 354.5 L637.3 361.8 L639.7 367.9 L643.4 376.5 L645.8 383.9 L652.0 387.5 L658.1 391.2 L661.1 396.1 L660.5 400.4 L655.6 399.8 L652.0 397.9 L652.0 402.2 L656.9 403.4 L661.7 405.9 L662.4 409.6 L658.1 413.2 L653.2 415.1 L648.3 419.4 L642.2 423.0 L638.5 424.2 L645.8 426.7 L652.0 424.2 L658.1 424.2 L663.0 427.9 L666.6 431.6 L665.4 437.7 L663.0 442.6 L661.7 447.5 L658.1 452.4 L655.6 458.5 L652.0 464.6 L650.7 470.8 L647.1 475.7 L645.8 480.8 L642.2 484.5 L638.5 489.4 L640.9 495.5 L637.3 499.2 L638.5 505.3 L634.8 509.0 L631.2 512.6 L627.5 517.5 L623.8 523.6 L618.9 528.5 L612.8 533.4 L607.9 538.3 L602.4 544.5 L596.9 549.4 L593.2 554.2 L585.9 556.7 L578.5 559.1 L572.4 560.4 L566.3 562.8 L560.2 564.0 L554.0 565.3 L550.4 561.6 L547.9 566.5 L544.2 570.2 L540.6 572.6 L535.7 576.3 L529.6 577.5 L523.4 580.6 L518.5 581.2 L511.2 583.6 L505.1 586.1 L501.4 588.5 L499.0 592.2 L497.1 594.6 L499.0 598.3 L499.6 602.0 L496.5 604.4 L490.4 604.4 L487.9 599.5 L485.5 593.4 L486.7 587.3 L487.9 583.6 L480.0 582.0 L475.0 581.0 L467.0 577.0 L460.1 582.4" fill="none"/>
<path id="p_hebei" d="M546.5 224.7 L550.8 224.1 L552.0 231.4 L557.5 233.9 L563.6 227.7 L569.7 229.0 L575.9 225.3 L577.1 217.3 L583.2 214.3 L588.7 215.5 L589.9 222.2 L593.6 227.1 L594.2 232.6 L600.3 235.1 L602.8 237.5 L604.0 243.6 L610.1 251.0 L615.6 256.5 L611.4 260.8 L609.5 268.1 L604.0 271.8 L599.1 273.0 L591.8 276.7 L589.9 281.6 L593.0 287.7 L596.7 291.4 L590.6 295.7 L580.8 296.9 L574.6 302.4 L569.7 309.7 L566.1 315.9 L562.4 323.2 L562.4 327.5 L551.4 328.7 L541.6 325.7 L539.1 322.0 L540.4 317.1 L542.8 309.7 L541.6 302.4 L539.1 293.8 L537.3 288.9 L539.1 284.0 L541.6 277.9 L545.3 276.7 L546.5 265.7 L542.8 262.0 L544.0 258.3 L547.7 255.9 L546.5 253.4 L541.6 243.6 L540.4 236.3Z"/>
<path id="p_beijing" d="M573.4 241.8 L575.9 246.7 L580.8 247.9 L583.8 247.3 L582.6 252.2 L583.2 257.1 L578.3 259.6 L575.9 261.4 L577.1 264.5 L573.4 268.1 L569.7 265.7 L567.3 267.5 L562.4 266.9 L560.6 262.0 L564.8 258.3 L566.1 254.7 L564.2 251.0 L569.7 247.9 L572.2 243.6Z"/>
<path id="p_hlj" d="M617.5 26.3 L640.0 10.0 L700.0 40.0 L780.0 70.0 L790.0 150.0 L749.5 178.0 L747.3 173.8 L739.9 168.9 L733.8 165.2 L727.7 170.1 L722.8 176.3 L716.7 175.0 L711.8 162.8 L706.9 168.9 L700.8 164.0 L694.6 160.3 L688.5 154.2 L682.4 151.8 L676.3 151.2 L670.2 153.6 L665.3 154.8 L660.4 153.0 L656.7 148.1 L653.0 142.0 L650.0 139.5 L650.6 133.4 L648.1 127.3 L646.3 120.0 L648.1 115.1 L656.7 112.6 L657.9 106.5 L659.1 97.9 L661.6 89.4 L662.8 79.6 L664.0 69.8 L666.5 63.6 L666.5 55.1 L661.6 49.0 L653.0 46.5 L645.7 48.3 L639.6 51.4 L633.4 47.7 L629.8 41.6 L624.9 36.7 L618.8 31.8Z"/>
<path id="p_jilin" d="M652.2 141.4 L655.9 143.0 L660.8 148.0 L665.7 150.0 L674.2 147.0 L686.5 149.0 L692.6 155.0 L697.5 160.0 L703.6 166.0 L708.5 164.0 L712.2 158.0 L717.1 166.0 L722.0 172.0 L726.9 165.0 L734.2 162.0 L740.3 167.0 L746.5 169.0 L760.0 168.0 L760.0 200.0 L720.0 230.0 L694.4 228.3 L689.5 225.3 L686.5 219.1 L681.6 210.6 L676.7 200.8 L670.6 194.7 L665.7 193.4 L660.8 191.0 L658.3 191.0 L653.4 178.8 L648.5 173.9 L642.4 176.3 L638.8 169.0 L635.1 160.4 L630.2 151.8 L638.8 148.2 L643.6 143.9Z"/>
<path id="p_liaoning" d="M603.3 236.3 L606.3 217.9 L609.4 210.6 L614.9 224.0 L626.5 217.9 L636.3 208.1 L646.1 203.2 L653.4 199.6 L658.3 197.1 L658.3 192.2 L660.8 191.0 L665.7 193.4 L670.6 194.7 L676.7 200.8 L681.6 210.6 L686.5 219.1 L689.5 225.3 L694.4 228.3 L710.0 240.0 L690.0 270.0 L640.0 290.0 L620.0 262.0 L615.5 256.5 L610.1 251.0 L604.0 243.6Z"/>
<path id="p_henan" d="M496.5 357.5 L499.0 366.7 L502.6 375.3 L505.1 382.6 L507.5 386.3 L518.5 396.1 L525.9 397.1 L535.7 395.5 L542.4 396.1 L544.2 403.4 L556.5 408.3 L567.5 410.8 L568.7 408.3 L574.8 403.4 L574.8 391.2 L572.4 392.4 L563.8 390.0 L560.2 383.9 L563.8 379.0 L567.5 372.8 L568.7 365.5 L581.0 365.5 L582.2 360.6 L576.1 354.5 L572.4 354.5 L557.7 349.0 L560.2 341.0 L563.8 334.9 L562.4 327.5 L551.4 328.7 L541.6 325.7 L541.6 333.0 L537.9 339.1 L533.0 344.0 L525.7 345.8 L519.6 347.1 L515.9 349.5 L508.5 353.8 L501.2 356.9Z"/>
<path id="p_anhui" d="M576.1 354.5 L582.2 360.6 L581.0 365.5 L568.7 365.5 L567.5 372.8 L563.8 379.0 L560.2 383.9 L563.8 390.0 L572.4 392.4 L574.8 391.2 L574.8 403.4 L568.7 408.3 L567.5 410.8 L577.3 418.1 L574.8 425.5 L578.5 431.6 L580.4 438.3 L584.6 436.5 L589.5 440.2 L593.2 435.3 L595.7 431.6 L600.6 435.3 L606.7 437.7 L612.8 440.2 L618.9 434.0 L620.1 426.7 L625.0 420.6 L627.5 414.5 L626.3 410.8 L618.9 409.6 L617.7 403.4 L612.8 401.0 L611.6 396.1 L614.0 388.8 L619.5 387.5 L620.1 383.9 L617.7 381.4 L612.8 382.6 L607.9 382.6 L604.2 377.7 L605.4 371.6 L603.0 366.7 L596.9 363.0 L593.2 360.6 L588.3 358.2 L583.4 355.1 L579.7 352.6Z"/>
<path id="p_jiangsu" d="M579.7 352.6 L579.1 350.8 L582.2 349.0 L585.9 350.2 L590.8 354.5 L598.1 355.7 L601.8 353.3 L605.4 356.3 L607.9 351.4 L612.8 350.2 L614.0 345.9 L616.5 344.7 L621.4 349.6 L627.5 352.6 L633.6 354.5 L637.3 361.8 L639.7 367.9 L643.4 376.5 L645.8 383.9 L652.0 387.5 L658.1 391.2 L661.1 396.1 L660.5 400.4 L655.6 399.8 L652.0 397.9 L650.7 402.2 L648.3 408.3 L648.9 412.0 L645.8 414.5 L640.9 414.5 L636.0 410.8 L631.2 409.6 L626.3 410.8 L618.9 409.6 L617.7 403.4 L612.8 401.0 L611.6 396.1 L614.0 388.8 L619.5 387.5 L620.1 383.9 L617.7 381.4 L612.8 382.6 L607.9 382.6 L604.2 377.7 L605.4 371.6 L603.0 366.7 L596.9 363.0 L593.2 360.6 L588.3 358.2 L583.4 355.1Z"/>
<path id="p_shanghai" d="M652.0 402.2 L656.9 403.4 L661.7 405.9 L662.4 409.6 L658.1 413.2 L653.2 415.1 L648.9 412.0 L648.3 408.3 L650.7 403.4Z"/>
<path id="p_zhejiang" d="M626.3 410.8 L631.2 409.6 L636.0 410.8 L640.9 414.5 L645.8 414.5 L648.9 412.0 L653.2 415.1 L648.3 419.4 L642.2 423.0 L638.5 424.2 L645.8 426.7 L652.0 424.2 L658.1 424.2 L663.0 427.9 L666.6 431.6 L665.4 437.7 L663.0 442.6 L661.7 447.5 L658.1 452.4 L655.6 458.5 L652.0 464.6 L650.7 470.8 L647.1 475.7 L640.9 475.7 L637.3 472.0 L632.4 470.8 L629.9 474.4 L626.3 473.8 L623.8 464.6 L621.4 462.2 L618.9 457.3 L614.0 451.2 L610.3 446.3 L612.8 440.2 L618.9 434.0 L620.1 426.7 L625.0 420.6 L627.5 414.5Z"/>
<path id="p_hubei" d="M567.5 410.8 L577.3 418.1 L574.8 425.5 L578.5 431.6 L580.4 438.3 L571.2 438.3 L563.8 442.6 L554.0 447.5 L547.9 452.4 L545.5 451.2 L544.2 442.6 L540.6 440.2 L535.7 443.8 L529.6 442.6 L523.4 437.7 L518.5 432.8 L507.5 435.3 L500.2 435.9 L497.1 440.2 L491.6 441.4 L485.5 442.6 L481.2 446.3 L478.8 452.4 L476.3 447.5 L473.3 441.4 L469.0 436.5 L468.4 431.6 L472.0 430.4 L478.2 427.9 L484.3 426.7 L490.4 423.0 L492.8 419.4 L491.6 415.7 L485.5 410.8 L486.7 407.1 L483.7 401.0 L484.3 394.9 L490.4 393.6 L491.6 390.0 L486.7 387.5 L484.3 382.6 L490.4 384.5 L496.5 383.9 L503.9 382.6 L507.5 386.3 L518.5 396.1 L525.9 397.1 L535.7 395.5 L542.4 396.1 L544.2 403.4 L556.5 408.3Z"/>
<path id="p_shandong" d="M596.7 291.4 L600.3 290.2 L605.2 289.5 L608.9 292.6 L610.7 295.7 L610.1 301.2 L613.8 304.8 L619.9 305.5 L623.6 301.2 L628.5 295.1 L633.4 292.0 L640.7 292.6 L645.6 296.3 L651.8 295.7 L657.9 296.9 L658.5 301.2 L654.2 304.8 L648.1 308.5 L642.0 312.2 L635.8 317.1 L630.9 323.2 L627.3 330.6 L623.6 337.9 L619.9 344.0 L616.5 345.5 L614.0 345.9 L612.8 350.2 L607.9 351.4 L605.4 356.3 L601.8 353.3 L598.1 355.7 L590.8 354.5 L585.9 350.2 L582.2 349.0 L579.1 350.8 L579.7 352.6 L576.1 354.5 L572.4 354.5 L557.7 349.0 L560.2 341.0 L563.8 334.9 L562.4 327.5 L562.4 323.2 L566.1 315.9 L569.7 309.7 L574.6 302.4 L580.8 296.9 L590.6 295.7Z"/>
<path id="p_guangdong" d="M513.6 550.6 L516.7 545.7 L521.0 539.6 L522.8 532.2 L524.7 522.4 L529.6 521.2 L535.7 523.6 L538.1 517.5 L541.2 515.7 L546.7 518.8 L552.8 517.5 L558.9 518.8 L561.4 516.9 L562.6 520.0 L558.9 523.6 L557.7 528.5 L560.2 532.2 L566.3 531.0 L573.6 527.3 L581.0 528.5 L582.2 524.3 L587.1 524.9 L593.2 528.5 L595.7 531.0 L596.9 535.9 L598.7 540.8 L602.4 544.5 L596.9 549.4 L593.2 554.2 L585.9 556.7 L578.5 559.1 L572.4 560.4 L566.3 562.8 L560.2 564.0 L554.0 565.3 L550.4 561.6 L547.9 566.5 L544.2 570.2 L540.6 572.6 L535.7 576.3 L529.6 577.5 L523.4 580.6 L518.5 581.2 L511.2 583.6 L505.1 586.1 L501.4 588.5 L499.0 592.2 L497.1 594.6 L499.0 598.3 L499.6 602.0 L496.5 604.4 L490.4 604.4 L487.9 599.5 L485.5 593.4 L486.7 587.3 L487.9 583.6 L490.4 580.0 L495.3 577.5 L498.3 572.6 L502.6 568.9 L507.5 564.0 L513.6 557.9 L514.9 553.0Z"/>
<path id="p_hainan" d="M479.4 610.6 L486.7 608.7 L494.1 608.1 L500.2 606.9 L503.9 606.3 L507.5 609.3 L508.8 614.2 L506.3 617.9 L502.6 621.6 L499.0 626.5 L495.3 631.4 L490.4 636.3 L484.3 639.9 L476.9 637.5 L470.8 633.8 L469.0 628.9 L468.4 622.8 L470.8 617.9 L474.5 614.2Z"/>
<path id="p_taiwan" d="M669.1 507.1 L674.0 509.0 L676.4 513.9 L675.2 521.2 L674.0 528.5 L672.8 538.3 L670.3 548.1 L667.3 556.7 L665.4 564.0 L663.6 566.5 L661.7 561.6 L658.1 556.7 L653.2 550.6 L650.7 544.5 L650.1 538.3 L652.0 532.2 L655.6 523.6 L659.3 516.3 L663.0 511.4Z"/>
<path id="p_sichuan" d="M314.3 361.8 L320.4 355.7 L326.5 358.2 L329.0 365.5 L332.6 372.8 L335.1 381.4 L344.9 382.6 L348.5 380.2 L353.4 386.3 L364.5 385.1 L365.7 377.7 L373.0 376.5 L380.4 370.4 L385.3 364.3 L391.4 361.2 L393.8 367.9 L402.4 372.8 L407.3 376.5 L409.7 385.1 L414.6 390.0 L422.0 391.2 L426.9 390.0 L433.0 389.4 L440.3 391.2 L446.5 391.2 L451.4 396.1 L457.5 398.5 L464.8 402.2 L467.3 408.3 L463.6 413.2 L461.1 420.6 L456.3 424.2 L451.4 427.9 L447.7 434.0 L444.0 436.5 L441.6 432.8 L437.9 434.0 L434.2 430.4 L429.3 430.4 L425.7 436.5 L426.9 441.4 L423.2 445.1 L424.4 449.9 L426.9 453.6 L433.0 457.3 L434.2 462.2 L426.9 463.4 L425.7 468.3 L431.8 470.8 L435.4 472.0 L434.2 474.4 L426.9 475.7 L420.8 473.2 L415.9 470.8 L411.0 473.2 L407.3 469.5 L408.5 463.4 L406.1 459.7 L398.7 461.0 L396.3 465.9 L392.6 470.8 L390.2 476.9 L384.0 480.6 L384.0 487.9 L381.6 492.8 L384.0 497.7 L377.9 499.5 L370.6 500.7 L365.7 501.4 L364.5 494.0 L360.8 492.8 L358.3 485.4 L354.7 478.1 L351.0 470.8 L346.1 468.3 L342.4 463.4 L343.6 457.3 L337.5 452.4 L332.6 454.8 L330.2 447.5 L331.4 440.2 L330.2 431.6 L331.4 423.0 L329.0 414.5 L327.7 405.9 L325.3 397.3 L321.6 388.8 L317.9 381.4 L313.0 375.3 L315.5 369.2Z"/>
<path id="p_guizhou" d="M452.8 452.0 L458.9 454.5 L463.8 458.2 L467.5 456.9 L472.4 461.8 L478.5 466.7 L480.3 474.1 L478.5 481.4 L480.9 487.5 L483.4 492.4 L480.9 498.5 L482.2 504.7 L477.3 509.6 L471.2 514.5 L466.3 515.7 L461.4 520.6 L456.5 523.0 L451.6 520.6 L446.7 519.4 L443.0 520.6 L436.9 521.8 L432.0 525.5 L427.1 527.9 L422.2 524.2 L417.3 521.8 L412.4 524.2 L407.5 525.5 L405.1 520.6 L403.8 513.2 L406.3 508.3 L407.5 502.2 L402.6 498.5 L397.7 496.1 L396.5 490.0 L395.3 485.1 L398.9 481.4 L405.1 480.2 L411.2 476.5 L417.3 475.3 L422.2 472.8 L424.6 466.7 L427.1 461.8 L432.0 463.0 L436.9 460.6 L444.2 458.2 L449.1 454.5Z"/>
<path id="p_ss" d="M517.6 256.4 L536.0 257.7 L543.3 251.8 L560.0 260.0 L560.0 330.0 L520.0 412.0 L470.0 414.0 L440.0 402.0 L430.0 396.0 L433.0 385.3 L436.7 376.7 L439.1 369.4 L442.8 359.6 L444.0 352.2 L451.4 349.8 L461.1 349.8 L468.5 343.6 L470.9 332.6 L470.9 324.1 L466.0 319.2 L458.7 316.7 L454.4 311.8 L454.3 307.8 L455.6 303.2 L459.6 301.9 L464.2 304.5 L472.7 303.8 L476.0 302.5 L476.0 295.9 L478.0 289.3 L485.9 281.4 L494.5 274.8 L501.1 272.2 L505.7 272.2 L509.0 270.9 L516.9 268.9Z"/>
<path id="p_gy" d="M320.6 470.4 L323.0 458.2 L326.7 448.4 L329.2 439.8 L345.0 445.0 L385.0 455.0 L420.0 455.0 L445.0 470.0 L479.4 510.1 L486.8 508.9 L491.7 505.2 L503.9 502.8 L510.0 505.2 L511.2 513.8 L510.0 522.4 L516.1 526.0 L524.7 522.4 L530.0 540.0 L515.0 560.0 L500.0 600.0 L440.0 600.0 L300.0 600.0 L280.0 500.0Z"/>
<path id="p_hjfc" d="M467.3 408.3 L467.2 400.0 L474.5 402.4 L483.1 407.3 L485.5 410.8 L500.0 415.0 L560.0 420.0 L600.0 420.0 L630.0 430.0 L640.0 470.0 L660.0 480.0 L660.0 540.0 L600.0 570.0 L540.0 545.0 L524.7 522.4 L516.1 526.0 L510.0 522.4 L511.2 513.8 L510.0 505.2 L503.9 502.8 L491.7 505.2 L486.8 508.9 L479.4 510.1 L470.0 500.0 L450.0 475.0 L420.0 470.0 L415.0 435.0 L440.0 418.0Z"/>
<path id="rivm" d="M298.4 335.1 L313.0 338.8 L322.8 340.0 L329.0 344.9 L333.9 351.0 L338.8 358.3 L342.4 363.2 L351.0 365.7 L358.3 364.5 L365.7 365.7 L373.0 368.1 L377.9 373.0 L382.8 374.2 L384.0 370.6 L380.4 365.7 L374.2 359.6 L365.7 352.2 L359.6 346.1 L355.9 338.8 L358.3 330.2 L365.7 325.3 L373.0 325.9 L379.1 326.5 L384.0 330.2 L396.3 333.2 L398.7 329.0 L408.5 326.5 L417.1 320.4 L418.3 315.5 L414.0 311.8 L420.8 306.3 L433.2 305.1 L436.5 301.2 L440.4 292.6 L444.4 286.7 L448.3 279.4 L447.7 263.0 L453.6 254.4 L462.8 247.5 L468.1 248.1 L474.7 252.4 L481.3 254.4 L489.9 253.1 L502.4 257.7 L507.7 261.0 L508.7 267.6 L507.0 272.8 L504.4 280.1 L501.1 289.3 L496.5 294.6 L496.5 298.6 L500.4 304.5 L499.1 310.4 L495.8 316.4 L496.5 328.0 L498.8 342.8 L496.3 351.4 L495.1 357.5 L505.1 356.3 L516.1 349.6 L525.7 351.4 L535.7 351.4 L545.0 349.0 L556.5 346.0 L560.0 338.0 L564.0 331.0 L572.2 326.9 L580.8 318.3 L589.3 309.7 L597.9 302.4 L605.2 297.5 L610.7 295.7 M400.2 459.4 L409.7 456.3 L418.3 456.9 L426.9 453.8 L433.0 450.1 L439.1 444.0 L445.2 441.6 L451.4 439.1 L457.5 433.0 L462.4 425.7 L467.3 422.0 L475.8 420.2 L488.1 419.5 L498.0 418.7 L503.3 421.3 L508.6 424.6 L511.2 429.2 L513.2 432.5 L516.5 431.2 L521.1 432.5 L523.1 435.8 L525.7 439.1 L528.3 441.7 L532.3 441.1 L534.3 445.0 L534.9 447.7 L537.6 444.4 L541.5 439.8 L545.5 436.5 L549.4 433.8 L550.7 429.9 L552.1 425.9 L554.7 424.3 L560.6 425.6 L563.9 429.9 L567.2 433.8 L569.9 437.1 L575.1 438.4 L580.4 438.3 L584.6 436.5 L590.8 429.1 L596.9 423.0 L603.0 415.7 L609.1 409.6 L611.6 402.2 L612.8 396.1 L617.7 392.4 L623.8 392.4 L628.7 394.9 L633.6 396.7 L640.9 393.6 L645.8 393.6 L652.0 397.3 L660.5 401.0 M574.6 261.4 L580.8 270.6 L582.0 276.7 L579.5 285.3 L575.9 295.1 L571.0 304.8 L567.3 312.2 L566.1 319.5 L568.5 325.7 L573.4 330.6 L577.3 337.3 L582.2 343.5 L587.1 350.8 L592.0 355.7 L599.3 360.6 L606.7 365.5 L614.0 369.2 L620.1 374.1 L623.8 380.2 L626.3 387.5 L629.9 392.4 L634.8 397.3 L640.9 402.2 L645.8 408.3 L644.6 415.7 L639.7 420.6 L638.5 424.2 M440.3 380.4 L447.7 382.8 L455.0 381.6 L461.1 381.6 L464.8 386.5 L469.7 393.8 L475.8 391.4 L481.9 387.7 L488.1 387.1 L497.9 388.3 L505.2 390.2 L512.6 395.1 L518.7 401.2 L523.6 408.5 L527.2 418.3 L530.3 427.9 L535.6 428.9 L540.9 429.9 L545.5 425.9 L549.4 424.9 L552.0 425.9 M397.7 507.1 L395.3 515.7 L390.4 520.6 L385.5 521.8 L383.0 527.9 L384.2 540.2 L389.1 540.8 L391.6 535.3 L400.2 530.4 L407.5 526.7 L417.3 521.8 L423.4 525.5 L429.5 527.9 L436.9 523.0 L443.0 520.0 L447.9 525.5 L451.6 534.0 L455.2 542.6 L461.4 543.8 L466.3 540.2 L473.6 545.1 L480.9 546.3 L483.4 543.8 L487.1 548.7 L495.6 549.9 L504.2 551.2 L512.8 549.3 L518.5 554.2 L525.9 555.5 L533.2 554.2 L535.7 557.9 L539.4 564.0 L543.0 568.9 L545.5 572.6 M544.2 394.9 L554.0 396.1 L562.6 393.6 L572.4 391.2 L579.7 389.4 L587.1 386.3 L594.4 382.6 L600.6 380.2 L604.2 377.7 L610.0 375.0 M602.0 235.1 L606.3 217.9 L610.6 205.7 L613.0 203.2 L626.5 192.2 L637.5 191.0 L646.1 185.5 L654.7 187.3 L657.1 192.2 L658.3 200.8 L663.2 207.5 L655.9 215.5 L651.0 224.0 L648.5 228.9 L641.2 235.1 L640.0 236.3" fill="none"/>
<path id="rivu" d="M224.8 352.6 L226.0 346.5 L229.1 337.9 L235.8 339.2 L242.0 342.8 L248.1 342.2 L253.0 345.9 L260.3 345.3 L266.4 345.3 L270.1 341.0 L277.5 337.9 L283.6 340.4 L289.7 346.5 L294.7 355.9 L302.0 363.2 L308.2 370.6 L314.3 377.9 L320.4 384.0 L322.8 390.2 L325.3 398.7 L327.7 407.3 L329.0 414.6 L330.2 426.9 L330.2 439.1 L329.2 448.4 L332.8 466.7 L339.0 483.9 L342.6 476.5 L346.3 469.2 L347.5 479.0 L345.1 487.5 L343.9 494.9 L351.2 497.3 L358.5 493.6 L363.4 491.2 L365.9 498.5 L367.1 502.2 L375.7 497.3 L381.8 496.1 L383.0 488.8 L384.2 480.2 L390.4 474.1 L395.3 465.5 L400.2 459.4 M399.3 381.6 L400.0 390.2 L401.2 397.5 L400.6 404.8 L397.5 411.0 L396.9 417.1 L399.3 423.2 L400.6 431.8 L400.0 439.1 L401.2 447.7 L404.8 452.6 L409.7 456.3 M447.7 363.2 L441.6 369.4 L435.4 376.7 L433.0 385.3 L430.5 393.8 L429.9 401.2 L433.0 408.5 L436.1 415.9 L434.2 423.2 L435.4 430.5 L437.9 437.9 L439.1 444.0" fill="none"/>
<path id="rivne" d="M676.3 151.2 L682.4 145.7 L689.7 142.0 L697.1 138.3 L704.4 139.5 L713.0 137.1 L716.7 132.2 L719.1 127.3 L722.8 120.0 L728.9 112.6 L733.8 108.9 L741.2 107.7 L746.1 104.0 L748.5 97.9 L753.4 93.0 L760.7 88.1 L768.1 84.5 L771.8 80.8 M693.2 179.4 L697.5 182.4 L700.6 180.0 L699.3 186.1 L702.4 192.2 L703.6 197.1 L707.3 195.9 L709.7 193.4 L714.6 195.9 L715.9 204.5" fill="none"/>
<path id="rivt" d="M210.5 243.0 L213.0 230.8 L208.1 223.4 L200.7 214.9 L193.4 208.8 L183.6 205.1 L173.8 201.4 L162.8 199.0 L159.1 201.4 L149.3 200.2 L144.4 197.1 L134.6 198.3 L127.3 200.2 L117.5 200.2 L107.7 205.1 L97.9 206.9 L85.7 207.5 L75.9 210.0 L68.5 218.5 L63.6 222.2 L57.5 225.9 L52.6 223.4 L49.0 228.3 L43.5 234.5 L41.6 238.1 L42.2 245.5 L46.5 251.6 L53.9 252.2 L58.1 255.3 L60.0 260.2 L56.3 262.6 L56.9 267.5 M89.0 373.4 L97.5 378.3 L103.6 385.7 L111.0 393.0 L118.3 401.6 L125.7 404.7 L133.0 407.7 L141.6 410.2 L150.2 412.0 L157.5 415.1 L162.4 416.3 L167.3 412.0 L174.6 415.1 L186.9 418.1 L199.1 421.2 L205.2 422.4 L213.8 424.8 L223.6 427.3 L230.9 429.7 L238.3 433.4 L245.6 434.0 L253.0 432.2 L260.3 429.7 L267.7 427.3 L272.6 424.2 L276.2 424.8 L276.8 428.5 L272.6 434.6 L267.7 438.3 L266.4 442.0 L268.9 446.9 L267.7 453.0 L271.3 455.4 M232.2 368.5 L233.4 371.0 L228.5 375.9 L226.7 379.6 L229.7 385.7 L230.9 390.6 L235.8 391.2 L243.2 389.4 L250.5 390.6 L260.3 393.0 L267.7 395.5 L268.9 400.4 L275.0 401.6 L281.1 404.0 L284.8 407.7 L292.2 413.4 L297.1 418.3 L302.0 424.4 L306.9 431.8 L311.8 440.3 L315.5 448.9 L317.9 457.5 L320.6 470.4 L320.0 491.2 L319.4 508.3 L320.6 527.9 M264.0 362.4 L270.1 364.9 L277.5 367.3 L283.6 372.2 L289.7 377.1 L293.5 381.6 L299.6 388.9 L304.5 397.5 L306.3 406.1 L309.4 414.6 L313.0 423.2 L316.7 433.0 L319.2 442.8 L321.6 451.4 L325.5 460.6 L326.7 479.0 L325.5 498.5 L326.7 509.6 L332.8 518.1 L339.0 521.8 L342.6 526.7 L341.4 534.0 L336.5 541.4 L334.1 547.5 L337.7 556.1 L342.6 565.9 L347.5 572.0 L350.0 574.4 M317.9 368.1 L322.8 373.0 L329.0 377.9 L335.1 382.8 L338.8 390.2 L343.6 397.5 L348.5 404.8 L351.0 412.2 L349.8 418.3 L353.4 424.4 L358.3 430.5 L359.6 439.1 L361.0 448.4 L363.4 464.3 L368.3 460.6 L370.2 456.9 L368.3 466.7 L369.6 479.0 L365.9 487.5 L364.7 491.2 M340.2 509.6 L347.5 518.1 L356.1 527.9 L361.0 537.7 L368.3 545.1 L378.1 551.2 L386.7 557.3 L395.3 564.0" fill="none"/>
<path id="qhl" d="M351.0 309.4 L354.7 305.1 L359.6 305.7 L364.5 311.8 L365.7 316.1 L360.8 315.5 L354.7 313.7Z"/>
<path id="xkl" d="M752.2 139.5 L757.1 138.3 L760.7 139.5 L762.0 141.4 L754.6 140.8Z"/>
<path id="tj" d="M583.2 257.1 L586.9 258.3 L588.7 264.5 L591.8 265.7 L593.0 270.6 L591.2 276.7 L589.9 281.6 L586.9 284.0 L582.0 283.4 L578.3 279.1 L580.8 274.2 L578.3 268.1 L577.1 264.5" fill="none"/>
<path id="wlines" d="M541.6 325.7 L551.4 328.7 L562.4 327.5 M505.3 379.8 L507.5 386.3 L518.5 396.1 L525.9 397.1 L535.7 395.5 L542.4 396.1 L544.2 403.4 L556.5 408.3 L567.5 410.8 L577.3 418.1 L574.8 425.5 L578.5 431.6 L580.4 438.3 M567.5 410.8 L568.7 408.3 L574.8 403.4 L574.8 391.2 L572.4 392.4 L563.8 390.0 L560.2 383.9 L563.8 379.0 L567.5 372.8 L568.7 365.5 L581.0 365.5 L582.2 360.6 L576.1 354.5 M652.2 141.4 L655.9 146.9 L660.8 153.0 L665.7 154.3 L674.2 151.8 L686.5 153.7 L692.6 159.2 L697.5 165.3 L703.6 171.4 L708.5 169.0 L712.2 162.8 L717.1 171.4 L722.0 177.5 L726.9 170.2 L734.2 166.5 L740.3 171.4 L746.5 173.9 M660.8 191.0 L665.7 193.4 L670.6 194.7 L676.7 200.8 L681.6 210.6 L686.5 219.1 L689.5 225.3 L694.4 228.3 M616.5 464.9 L609.2 467.3 L601.8 471.0 L598.1 477.1 L596.9 484.5 L592.0 489.4 L590.8 496.7 L588.3 502.8 L585.9 509.0 L583.4 515.1 L582.8 521.2 L582.2 524.3 M552.8 460.0 L551.6 467.3 L546.7 475.9 L549.1 484.5 L551.6 494.3 L554.0 502.8 L552.8 509.0 L551.6 515.7 M652.0 402.2 L650.7 403.4 L648.3 408.3 L648.9 412.0 L653.2 415.1 M626.3 410.8 L631.2 409.6 L636.0 410.8 L640.9 414.5 L645.8 414.5 L648.9 412.0" fill="none"/>
<path id="lakes" d="M518.5 456.5 l2 -1.5 l2 1.8 l2.5 -2 l2.5 2 l2.5 -1.8 l2.5 1.5 l1.5 -4 l0.8 -5 M577.5 444 l3 3 l2 -1 l2.5 4 l2 -1 l1.5 4.5 M606 371 l3 -3 l2 2 l3 -4 M609 378 l3 -2 l1 3" fill="none"/>
</defs>
<g transform="translate(0.0,0.0)">
<use href="#landb" stroke="#d9d8f3" stroke-width="14" stroke-linejoin="round" stroke-linecap="butt"/>
<use href="#landb" stroke="#c6c4ea" stroke-width="11.5" stroke-linejoin="round"/>
<use href="#landb" stroke="#ada7d5" stroke-width="6.6" stroke-linejoin="round"/>
<use href="#countryp" fill="#f6f6f7"/>
<g clip-path="url(#cn)">
<use href="#p_hlj" fill="#f7f5cd"/><use href="#p_jilin" fill="#f7f5cd"/>
<use href="#p_ss" fill="#f7f5cd"/>
<use href="#p_gy" fill="#f7f5cd"/>
<use href="#p_hjfc" fill="#f7f5cd"/>
<use href="#p_liaoning" fill="#f7f5cd"/>
<use href="#p_shandong" fill="#f7f5cd"/>
<use href="#p_hebei" fill="#9fcbaf"/>
<use href="#p_henan" fill="#9fcbaf"/>
<use href="#p_anhui" fill="#9fcbaf"/>
<use href="#p_hubei" fill="#9fcbaf"/>
<use href="#p_sichuan" fill="#f7f5cd"/>
<use href="#p_jiangsu" fill="#4178ac"/>
<use href="#p_zhejiang" fill="#4178ac"/>
<use href="#p_guangdong" fill="#5fadbb"/>
<use href="#p_guizhou" fill="#f6f6f7"/>
<use href="#p_beijing" fill="#24378c" stroke="#eef2e6" stroke-width="0.5"/>
<use href="#p_shanghai" fill="#24378c"/>
<use href="#wlines" stroke="#fbfbf2" stroke-width="0.8" opacity="0.75"/>
<use href="#tj" stroke="#e9f1ea" stroke-width="0.8"/>
<use href="#qhl" fill="#bfe2f6" stroke="#3aa9e4" stroke-width="0.8"/>
<use href="#xkl" fill="#bfe2f6" stroke="#3aa9e4" stroke-width="0.6"/>
<use href="#rivt" stroke="#4fb6ec" stroke-width="0.85" stroke-linejoin="round"/>
<use href="#rivu" stroke="#36a9e6" stroke-width="1.0" stroke-linejoin="round"/>
<use href="#rivm" stroke="#25a2e0" stroke-width="1.3" stroke-linejoin="round"/>
<path d="M602.8 237.5 L604 243.6 L610.1 251 L615.6 256.5" fill="none" stroke="#5b5b52" stroke-width="1.1"/>
<use href="#rivne" stroke="#25a2e0" stroke-width="1.2" stroke-linejoin="round"/>
<use href="#lakes" stroke="#2ba3de" stroke-width="1.6" stroke-linejoin="round"/>
<circle cx="572.2" cy="261.2" r="1.3" fill="#e8212b"/>
</g>
<use href="#p_hainan" fill="#f7f5cd" stroke="#3aa9e4" stroke-width="0.9"/>
<use href="#p_taiwan" fill="#f3f3f6" stroke="#6fc0ee" stroke-width="0.9"/>
<use href="#coastp" stroke="#35a7e3" stroke-width="1.05" stroke-linejoin="round"/>
<use href="#landb1" stroke="#4d4a52" stroke-width="1.4" stroke-linejoin="round"/>
<use href="#landb2" stroke="#a39dcc" stroke-width="1.2" stroke-linejoin="round"/>
<use href="#landb2" stroke="#4d4a52" stroke-width="1.2" stroke-linejoin="round" stroke-dasharray="4 46"/>
<use href="#landb3" stroke="#4d4a52" stroke-width="1.4" stroke-linejoin="round"/>
<path d="M651.6 397.0 Q656 399.6 661.3 400.4" stroke="#3e2e3a" stroke-width="2.1" fill="none" stroke-linecap="round"/>
<path d="M690.5 517.5 L690.5 537.7 L697.0 537.7 L697.0 517.5Z" fill="#d4d1ee"/><path d="M690.5 517.5 L690.5 537.7 L693.4 537.7 L693.4 517.5Z" fill="#b4aed9"/><path d="M690.5 517.5 L690.5 537.7" stroke="#4b4650" stroke-width="1.4"/>
<path d="M683.8 568.9 L672.8 586.7 L677.9 589.9 L688.9 572.1Z" fill="#d4d1ee"/><path d="M683.8 568.9 L672.8 586.7 L675.1 588.1 L686.1 570.3Z" fill="#b4aed9"/><path d="M683.8 568.9 L672.8 586.7" stroke="#4b4650" stroke-width="1.4"/>
<path d="M655.6 619.1 L648.3 638.7 L653.9 640.8 L661.2 621.2Z" fill="#d4d1ee"/><path d="M655.6 619.1 L648.3 638.7 L650.8 639.6 L658.1 620.0Z" fill="#b4aed9"/><path d="M655.6 619.1 L648.3 638.7" stroke="#4b4650" stroke-width="1.4"/>
<path d="M668.0 415.0h1.2 M670.0 420.0h1.2 M672.0 428.0h1.2 M669.0 436.0h1.2 M667.0 446.0h1.2 M664.0 455.0h1.2 M660.0 463.0h1.2 M657.0 470.0h1.2 M649.0 478.0h1.2 M647.0 486.0h1.2 M643.0 492.0h1.2 M644.0 500.0h1.2 M640.0 507.0h1.2 M636.0 514.0h1.2 M632.0 519.0h1.2 M627.0 524.0h1.2 M622.0 529.0h1.2 M617.0 533.0h1.2 M611.0 538.0h1.2 M541.0 575.0h1.2 M548.0 571.0h1.2 M556.0 568.0h1.2 M527.0 583.0h1.2 M533.0 581.0h1.2 M452.0 592.0h1.2 M636.0 586.0h1.2 M650.0 592.0h1.2 M697.0 492.0h1.2 M706.0 488.0h1.2 M676.0 503.0h1.2 M641.0 537.0h1.2 M640.0 545.0h1.2 M610.0 300.0h1.2 M655.0 270.0h1.2 M660.0 268.0h1.2 M663.0 273.0h1.2 M666.0 275.0h1.2" stroke="#45afe8" stroke-width="1.2" fill="none"/>
</g>
<rect x="10.5" y="491.0" width="17" height="7.5" fill="#24378c" stroke="#6b6760" stroke-width="0.8"/>
<text x="37.5" y="498.8" font-size="14.9" font-family="Liberation Sans, Arial, sans-serif" font-weight="bold" fill="#1a1311">≥121</text>
<rect x="10.5" y="511.9" width="17" height="7.5" fill="#4178ac" stroke="#6b6760" stroke-width="0.8"/>
<text x="37.5" y="519.8" font-size="14.9" font-family="Liberation Sans, Arial, sans-serif" font-weight="bold" fill="#1a1311">91~120</text>
<rect x="10.5" y="532.9" width="17" height="7.5" fill="#5fadbb" stroke="#6b6760" stroke-width="0.8"/>
<text x="37.5" y="540.7" font-size="14.9" font-family="Liberation Sans, Arial, sans-serif" font-weight="bold" fill="#1a1311">61~90</text>
<rect x="10.5" y="553.9" width="17" height="7.5" fill="#9fcbaf" stroke="#6b6760" stroke-width="0.8"/>
<text x="37.5" y="561.6" font-size="14.9" font-family="Liberation Sans, Arial, sans-serif" font-weight="bold" fill="#1a1311">31~60</text>
<rect x="10.5" y="574.8" width="17" height="7.5" fill="#f7f5cd" stroke="#6b6760" stroke-width="0.8"/>
<text x="37.5" y="582.6" font-size="14.9" font-family="Liberation Sans, Arial, sans-serif" font-weight="bold" fill="#1a1311">≤30</text>
<rect x="10.5" y="595.8" width="17" height="7.5" fill="#f6f6f7" stroke="#6b6760" stroke-width="0.8"/>
<text x="37.5" y="603.5" font-size="14.9" font-family="Liberation Sans, Arial, sans-serif" font-weight="bold" fill="#1a1311">No data</text>
<g transform="translate(759.4,454.4)">
<clipPath id="icA"><rect x="0" y="0" width="130.2" height="198.2"/></clipPath>
<g clip-path="url(#icA)">
<path d="M-3.6 5.1 L0.0 6.5 L9.4 9.1 L12.3 16.6 L19.5 19.5" fill="none" stroke="#cfcced" stroke-width="7" transform="translate(-1.5,2.5)"/>
<path d="M-3.6 5.1 L0.0 6.5 L9.4 9.1 L12.3 16.6 L19.5 19.5" fill="none" stroke="#b1abd7" stroke-width="4" transform="translate(-0.8,1.4)"/>
<path d="M-0.7 -0.7 L48.5 -0.7 L45.6 5.1 L41.2 12.3 L36.9 18.1 L34.0 19.5 L28.2 19.8 L19.5 19.2 L12.3 16.6 L9.4 9.1 L0.0 6.5 L-0.7 6.2Z" fill="#f7f5cd" stroke="#3aa9e4" stroke-width="0.7"/>
<path d="M48.5 -0.7 L98.4 -0.7 L91.9 5.1 L83.2 9.4 L71.6 13.7 L62.9 16.6 L55.7 19.5 L45.6 21.7 L39.8 25.3 L40.5 29.7 L36.9 31.8 L33.3 29.7 L32.5 23.9 L34.0 19.5 L36.9 18.1 L41.2 12.3 L45.6 5.1Z" fill="#5fadbb"/>
<path d="M-3.6 5.1 L0.0 6.5 L9.4 9.1 L12.3 16.6 L19.5 19.5" fill="none" stroke="#4b4650" stroke-width="1.2"/>
<path d="M34.0 31.1 L40.5 30.4 L44.1 34.0 L41.9 39.8 L38.3 44.1 L32.5 48.5 L26.8 47.0 L24.2 42.7 L25.3 36.9 L28.9 33.3Z" fill="#f7f5cd" stroke="#b9b9b0" stroke-width="0.8"/>
<path d="M116.4 -0.7 L117.9 6.5 L120.8 12.3 L123.0 15.9 L125.1 9.4 L127.3 3.6 L128.0 -0.7Z" fill="#f3f3f6" stroke="#6fc0ee" stroke-width="0.8"/>
<path d="M48.5 6.5 L54.2 8.0 L60.0 7.2 L61.5 12.3 L64.4 15.9" fill="none" stroke="#2ba3de" stroke-width="0.9"/>
</g>
<g clip-path="url(#icA)">
<path d="M131.8 21.3 L128.9 26.3 L134.1 29.3 L137.0 24.2Z" fill="#d4d1ee"/><path d="M131.8 21.3 L128.9 26.3 L131.2 27.7 L134.1 22.6Z" fill="#b4aed9"/><path d="M128.7 19.5 L125.8 24.6" stroke="#4b4650" stroke-width="1.4"/>
</g>
<path d="M119.3 43.5 L116.4 49.3 L121.8 52.0 L124.7 46.2Z" fill="#d4d1ee"/><path d="M119.3 43.5 L116.4 49.3 L118.8 50.5 L121.7 44.7Z" fill="#b4aed9"/><path d="M116.2 41.9 L113.3 47.7" stroke="#4b4650" stroke-width="1.4"/>
<path d="M115.4 68.2 L115.1 74.7 L121.1 75.0 L121.4 68.5Z" fill="#d4d1ee"/><path d="M115.4 68.2 L115.1 74.7 L117.8 74.8 L118.1 68.3Z" fill="#b4aed9"/><path d="M110.4 68.0 L110.1 74.5" stroke="#4b4650" stroke-width="1.4"/>
<path d="M113.7 103.7 L110.8 109.8 L116.2 112.4 L119.1 106.3Z" fill="#d4d1ee"/><path d="M113.7 103.7 L110.8 109.8 L113.2 110.9 L116.1 104.9Z" fill="#b4aed9"/><path d="M110.1 102.0 L107.2 108.1" stroke="#4b4650" stroke-width="1.4"/>
<path d="M88.2 137.4 L83.2 142.5 L87.4 146.7 L92.5 141.7Z" fill="#d4d1ee"/><path d="M88.2 137.4 L83.2 142.5 L85.1 144.4 L90.1 139.3Z" fill="#b4aed9"/><path d="M88.2 137.4 L83.2 142.5" stroke="#4b4650" stroke-width="1.4"/>
<path d="M58.6 172.9 L52.8 175.0 L54.9 180.7 L60.7 178.5Z" fill="#d4d1ee"/><path d="M58.6 172.9 L52.8 175.0 L53.7 177.6 L59.5 175.4Z" fill="#b4aed9"/><path d="M58.6 172.9 L52.8 175.0" stroke="#4b4650" stroke-width="1.4"/>
<path d="M20.0 143.6 L20.0 150.2 L14.0 150.2 L14.0 143.6Z" fill="#d4d1ee"/><path d="M20.0 143.6 L20.0 150.2 L17.3 150.2 L17.3 143.6Z" fill="#b4aed9"/><path d="M20.0 143.6 L20.0 150.2" stroke="#4b4650" stroke-width="1.4"/>
<path d="M37.6 101.3 L36.6 107.5 L30.7 106.5 L31.7 100.3Z" fill="#d4d1ee"/><path d="M37.6 101.3 L36.6 107.5 L33.9 107.0 L34.9 100.8Z" fill="#b4aed9"/><path d="M37.6 101.3 L36.6 107.5" stroke="#4b4650" stroke-width="1.4"/>
<path d="M30.4 68.0 L33.7 73.8 L28.5 76.8 L25.2 71.0Z" fill="#d4d1ee"/><path d="M30.4 68.0 L33.7 73.8 L31.4 75.1 L28.0 69.3Z" fill="#b4aed9"/><path d="M30.4 68.0 L33.7 73.8" stroke="#4b4650" stroke-width="1.4"/>
<path d="M47.1 57.9h1.3 M52.9 59.3h1.3 M57.3 61.8h1.3 M48.6 62.9h1.3 M52.2 64.4h1.3 M49.3 65.8h1.3 M55.8 67.3h1.3 M45.0 69.4h1.3 M50.8 68.0h1.3 M71.0 65.8h1.3 M73.9 65.8h1.3 M67.4 68.7h1.3 M74.6 68.7h1.3 M66.7 71.6h1.3 M70.3 72.3h1.3 M73.2 70.9h1.3 M83.3 24.6h1.3 M96.3 27.1h1.3 M105.0 74.2h1.3 M133.2 9.4h1.3 M133.6 14.5h1.3 M97.0 102.0h1.3 M86.9 104.2h1.3 M71.0 106.3h1.3 M76.8 109.2h1.3 M68.8 110.7h1.3 M84.7 107.8h1.3 M101.4 109.2h1.3 M71.0 113.6h1.3 M82.6 112.1h1.3 M96.3 114.3h1.3 M102.1 112.8h1.3 M66.7 118.6h1.3 M71.0 117.9h1.3 M73.2 119.3h1.3 M71.0 121.5h1.3 M81.1 119.3h1.3 M84.0 120.1h1.3 M94.9 120.1h1.3 M99.2 123.0h1.3 M59.4 121.5h1.3 M84.7 124.4h1.3 M53.6 128.0h1.3 M58.0 128.7h1.3 M69.6 129.5h1.3 M50.0 130.2h1.3 M79.0 132.4h1.3 M62.3 133.8h1.3 M38.5 134.5h1.3 M34.1 136.0h1.3 M50.0 135.0h1.3 M73.9 135.3h1.3 M67.4 136.0h1.3 M37.7 137.9h1.3 M47.9 138.1h1.3 M31.2 139.6h1.3 M66.7 141.0h1.3 M64.5 144.7h1.3 M61.6 150.2h1.3 M56.5 156.2h1.3 M55.8 161.0h1.3 M52.5 171.1h1.3" stroke="#45afe8" stroke-width="1.2" fill="none"/>
<rect x="0" y="0" width="130.2" height="198.2" fill="none" stroke="#8e8e8e" stroke-width="1"/>
</g>
<g transform="translate(1044.0,3.0)">
<use href="#landb" stroke="#d9d8f3" stroke-width="14" stroke-linejoin="round" stroke-linecap="butt"/>
<use href="#landb" stroke="#c6c4ea" stroke-width="11.5" stroke-linejoin="round"/>
<use href="#landb" stroke="#ada7d5" stroke-width="6.6" stroke-linejoin="round"/>
<use href="#countryp" fill="#f6f6f7"/>
<g clip-path="url(#cn)">
<use href="#p_hlj" fill="#f7f5cd"/><use href="#p_jilin" fill="#f7f5cd"/>
<use href="#p_ss" fill="#f7f5cd"/>
<use href="#p_gy" fill="#f7f5cd"/>
<use href="#p_hjfc" fill="#f7f5cd"/>
<use href="#p_liaoning" fill="#f7f5cd"/>
<use href="#p_shandong" fill="#f7f5cd"/>
<use href="#p_hebei" fill="#b5d465"/>
<use href="#p_henan" fill="#f7f5cd"/>
<use href="#p_anhui" fill="#f7f5cd"/>
<use href="#p_hubei" fill="#b5d465"/>
<use href="#p_sichuan" fill="#b5d465"/>
<use href="#p_jiangsu" fill="#7db05b"/>
<use href="#p_zhejiang" fill="#4a883a"/>
<use href="#p_guangdong" fill="#7db05b"/>
<use href="#p_guizhou" fill="#f6f6f7"/>
<use href="#p_beijing" fill="#2e6b3a" stroke="#eef2e6" stroke-width="0.5"/>
<use href="#p_shanghai" fill="#4a883a"/>
<use href="#wlines" stroke="#fbfbf2" stroke-width="0.8" opacity="0.75"/>
<use href="#tj" stroke="#e9f1ea" stroke-width="0.8"/>
<use href="#qhl" fill="#bfe2f6" stroke="#3aa9e4" stroke-width="0.8"/>
<use href="#xkl" fill="#bfe2f6" stroke="#3aa9e4" stroke-width="0.6"/>
<use href="#rivt" stroke="#4fb6ec" stroke-width="0.85" stroke-linejoin="round"/>
<use href="#rivu" stroke="#36a9e6" stroke-width="1.0" stroke-linejoin="round"/>
<use href="#rivm" stroke="#25a2e0" stroke-width="1.3" stroke-linejoin="round"/>
<path d="M602.8 237.5 L604 243.6 L610.1 251 L615.6 256.5" fill="none" stroke="#5b5b52" stroke-width="1.1"/>
<use href="#rivne" stroke="#25a2e0" stroke-width="1.2" stroke-linejoin="round"/>
<use href="#lakes" stroke="#2ba3de" stroke-width="1.6" stroke-linejoin="round"/>
<circle cx="572.2" cy="261.2" r="1.3" fill="#e8212b"/>
</g>
<use href="#p_hainan" fill="#f7f5cd" stroke="#3aa9e4" stroke-width="0.9"/>
<use href="#p_taiwan" fill="#f3f3f6" stroke="#6fc0ee" stroke-width="0.9"/>
<use href="#coastp" stroke="#35a7e3" stroke-width="1.05" stroke-linejoin="round"/>
<use href="#landb1" stroke="#4d4a52" stroke-width="1.4" stroke-linejoin="round"/>
<use href="#landb2" stroke="#a39dcc" stroke-width="1.2" stroke-linejoin="round"/>
<use href="#landb2" stroke="#4d4a52" stroke-width="1.2" stroke-linejoin="round" stroke-dasharray="4 46"/>
<use href="#landb3" stroke="#4d4a52" stroke-width="1.4" stroke-linejoin="round"/>
<path d="M651.6 397.0 Q656 399.6 661.3 400.4" stroke="#3e2e3a" stroke-width="2.1" fill="none" stroke-linecap="round"/>
<path d="M690.5 517.5 L690.5 537.7 L697.0 537.7 L697.0 517.5Z" fill="#d4d1ee"/><path d="M690.5 517.5 L690.5 537.7 L693.4 537.7 L693.4 517.5Z" fill="#b4aed9"/><path d="M690.5 517.5 L690.5 537.7" stroke="#4b4650" stroke-width="1.4"/>
<path d="M683.8 568.9 L672.8 586.7 L677.9 589.9 L688.9 572.1Z" fill="#d4d1ee"/><path d="M683.8 568.9 L672.8 586.7 L675.1 588.1 L686.1 570.3Z" fill="#b4aed9"/><path d="M683.8 568.9 L672.8 586.7" stroke="#4b4650" stroke-width="1.4"/>
<path d="M655.6 619.1 L648.3 638.7 L653.9 640.8 L661.2 621.2Z" fill="#d4d1ee"/><path d="M655.6 619.1 L648.3 638.7 L650.8 639.6 L658.1 620.0Z" fill="#b4aed9"/><path d="M655.6 619.1 L648.3 638.7" stroke="#4b4650" stroke-width="1.4"/>
<path d="M668.0 415.0h1.2 M670.0 420.0h1.2 M672.0 428.0h1.2 M669.0 436.0h1.2 M667.0 446.0h1.2 M664.0 455.0h1.2 M660.0 463.0h1.2 M657.0 470.0h1.2 M649.0 478.0h1.2 M647.0 486.0h1.2 M643.0 492.0h1.2 M644.0 500.0h1.2 M640.0 507.0h1.2 M636.0 514.0h1.2 M632.0 519.0h1.2 M627.0 524.0h1.2 M622.0 529.0h1.2 M617.0 533.0h1.2 M611.0 538.0h1.2 M541.0 575.0h1.2 M548.0 571.0h1.2 M556.0 568.0h1.2 M527.0 583.0h1.2 M533.0 581.0h1.2 M452.0 592.0h1.2 M636.0 586.0h1.2 M650.0 592.0h1.2 M697.0 492.0h1.2 M706.0 488.0h1.2 M676.0 503.0h1.2 M641.0 537.0h1.2 M640.0 545.0h1.2 M610.0 300.0h1.2 M655.0 270.0h1.2 M660.0 268.0h1.2 M663.0 273.0h1.2 M666.0 275.0h1.2" stroke="#45afe8" stroke-width="1.2" fill="none"/>
</g>
<rect x="1061.5" y="491.0" width="17" height="7.5" fill="#2e6b3a" stroke="#6b6760" stroke-width="0.8"/>
<text x="1088.5" y="498.8" font-size="14.9" font-family="Liberation Sans, Arial, sans-serif" font-weight="bold" fill="#1a1311">≥4001</text>
<rect x="1061.5" y="511.9" width="17" height="7.5" fill="#4a883a" stroke="#6b6760" stroke-width="0.8"/>
<text x="1088.5" y="519.8" font-size="14.9" font-family="Liberation Sans, Arial, sans-serif" font-weight="bold" fill="#1a1311">3001~4000</text>
<rect x="1061.5" y="532.9" width="17" height="7.5" fill="#7db05b" stroke="#6b6760" stroke-width="0.8"/>
<text x="1088.5" y="540.7" font-size="14.9" font-family="Liberation Sans, Arial, sans-serif" font-weight="bold" fill="#1a1311">2001~3000</text>
<rect x="1061.5" y="553.9" width="17" height="7.5" fill="#b5d465" stroke="#6b6760" stroke-width="0.8"/>
<text x="1088.5" y="561.6" font-size="14.9" font-family="Liberation Sans, Arial, sans-serif" font-weight="bold" fill="#1a1311">1001~2000</text>
<rect x="1061.5" y="574.8" width="17" height="7.5" fill="#f7f5cd" stroke="#6b6760" stroke-width="0.8"/>
<text x="1088.5" y="582.6" font-size="14.9" font-family="Liberation Sans, Arial, sans-serif" font-weight="bold" fill="#1a1311">≤1000</text>
<rect x="1061.5" y="595.8" width="17" height="7.5" fill="#f6f6f7" stroke="#6b6760" stroke-width="0.8"/>
<text x="1088.5" y="603.5" font-size="14.9" font-family="Liberation Sans, Arial, sans-serif" font-weight="bold" fill="#1a1311">No data</text>
<g transform="translate(1810.9,454.4)">
<clipPath id="icB"><rect x="0" y="0" width="130.2" height="198.2"/></clipPath>
<g clip-path="url(#icB)">
<path d="M-3.6 5.1 L0.0 6.5 L9.4 9.1 L12.3 16.6 L19.5 19.5" fill="none" stroke="#cfcced" stroke-width="7" transform="translate(-1.5,2.5)"/>
<path d="M-3.6 5.1 L0.0 6.5 L9.4 9.1 L12.3 16.6 L19.5 19.5" fill="none" stroke="#b1abd7" stroke-width="4" transform="translate(-0.8,1.4)"/>
<path d="M-0.7 -0.7 L48.5 -0.7 L45.6 5.1 L41.2 12.3 L36.9 18.1 L34.0 19.5 L28.2 19.8 L19.5 19.2 L12.3 16.6 L9.4 9.1 L0.0 6.5 L-0.7 6.2Z" fill="#f7f5cd" stroke="#3aa9e4" stroke-width="0.7"/>
<path d="M48.5 -0.7 L98.4 -0.7 L91.9 5.1 L83.2 9.4 L71.6 13.7 L62.9 16.6 L55.7 19.5 L45.6 21.7 L39.8 25.3 L40.5 29.7 L36.9 31.8 L33.3 29.7 L32.5 23.9 L34.0 19.5 L36.9 18.1 L41.2 12.3 L45.6 5.1Z" fill="#7db05b"/>
<path d="M-3.6 5.1 L0.0 6.5 L9.4 9.1 L12.3 16.6 L19.5 19.5" fill="none" stroke="#4b4650" stroke-width="1.2"/>
<path d="M34.0 31.1 L40.5 30.4 L44.1 34.0 L41.9 39.8 L38.3 44.1 L32.5 48.5 L26.8 47.0 L24.2 42.7 L25.3 36.9 L28.9 33.3Z" fill="#f7f5cd" stroke="#b9b9b0" stroke-width="0.8"/>
<path d="M116.4 -0.7 L117.9 6.5 L120.8 12.3 L123.0 15.9 L125.1 9.4 L127.3 3.6 L128.0 -0.7Z" fill="#f3f3f6" stroke="#6fc0ee" stroke-width="0.8"/>
<path d="M48.5 6.5 L54.2 8.0 L60.0 7.2 L61.5 12.3 L64.4 15.9" fill="none" stroke="#2ba3de" stroke-width="0.9"/>
</g>
<g clip-path="url(#icB)">
<path d="M131.8 21.3 L128.9 26.3 L134.1 29.3 L137.0 24.2Z" fill="#d4d1ee"/><path d="M131.8 21.3 L128.9 26.3 L131.2 27.7 L134.1 22.6Z" fill="#b4aed9"/><path d="M128.7 19.5 L125.8 24.6" stroke="#4b4650" stroke-width="1.4"/>
</g>
<path d="M119.3 43.5 L116.4 49.3 L121.8 52.0 L124.7 46.2Z" fill="#d4d1ee"/><path d="M119.3 43.5 L116.4 49.3 L118.8 50.5 L121.7 44.7Z" fill="#b4aed9"/><path d="M116.2 41.9 L113.3 47.7" stroke="#4b4650" stroke-width="1.4"/>
<path d="M115.4 68.2 L115.1 74.7 L121.1 75.0 L121.4 68.5Z" fill="#d4d1ee"/><path d="M115.4 68.2 L115.1 74.7 L117.8 74.8 L118.1 68.3Z" fill="#b4aed9"/><path d="M110.4 68.0 L110.1 74.5" stroke="#4b4650" stroke-width="1.4"/>
<path d="M113.7 103.7 L110.8 109.8 L116.2 112.4 L119.1 106.3Z" fill="#d4d1ee"/><path d="M113.7 103.7 L110.8 109.8 L113.2 110.9 L116.1 104.9Z" fill="#b4aed9"/><path d="M110.1 102.0 L107.2 108.1" stroke="#4b4650" stroke-width="1.4"/>
<path d="M88.2 137.4 L83.2 142.5 L87.4 146.7 L92.5 141.7Z" fill="#d4d1ee"/><path d="M88.2 137.4 L83.2 142.5 L85.1 144.4 L90.1 139.3Z" fill="#b4aed9"/><path d="M88.2 137.4 L83.2 142.5" stroke="#4b4650" stroke-width="1.4"/>
<path d="M58.6 172.9 L52.8 175.0 L54.9 180.7 L60.7 178.5Z" fill="#d4d1ee"/><path d="M58.6 172.9 L52.8 175.0 L53.7 177.6 L59.5 175.4Z" fill="#b4aed9"/><path d="M58.6 172.9 L52.8 175.0" stroke="#4b4650" stroke-width="1.4"/>
<path d="M20.0 143.6 L20.0 150.2 L14.0 150.2 L14.0 143.6Z" fill="#d4d1ee"/><path d="M20.0 143.6 L20.0 150.2 L17.3 150.2 L17.3 143.6Z" fill="#b4aed9"/><path d="M20.0 143.6 L20.0 150.2" stroke="#4b4650" stroke-width="1.4"/>
<path d="M37.6 101.3 L36.6 107.5 L30.7 106.5 L31.7 100.3Z" fill="#d4d1ee"/><path d="M37.6 101.3 L36.6 107.5 L33.9 107.0 L34.9 100.8Z" fill="#b4aed9"/><path d="M37.6 101.3 L36.6 107.5" stroke="#4b4650" stroke-width="1.4"/>
<path d="M30.4 68.0 L33.7 73.8 L28.5 76.8 L25.2 71.0Z" fill="#d4d1ee"/><path d="M30.4 68.0 L33.7 73.8 L31.4 75.1 L28.0 69.3Z" fill="#b4aed9"/><path d="M30.4 68.0 L33.7 73.8" stroke="#4b4650" stroke-width="1.4"/>
<path d="M47.1 57.9h1.3 M52.9 59.3h1.3 M57.3 61.8h1.3 M48.6 62.9h1.3 M52.2 64.4h1.3 M49.3 65.8h1.3 M55.8 67.3h1.3 M45.0 69.4h1.3 M50.8 68.0h1.3 M71.0 65.8h1.3 M73.9 65.8h1.3 M67.4 68.7h1.3 M74.6 68.7h1.3 M66.7 71.6h1.3 M70.3 72.3h1.3 M73.2 70.9h1.3 M83.3 24.6h1.3 M96.3 27.1h1.3 M105.0 74.2h1.3 M133.2 9.4h1.3 M133.6 14.5h1.3 M97.0 102.0h1.3 M86.9 104.2h1.3 M71.0 106.3h1.3 M76.8 109.2h1.3 M68.8 110.7h1.3 M84.7 107.8h1.3 M101.4 109.2h1.3 M71.0 113.6h1.3 M82.6 112.1h1.3 M96.3 114.3h1.3 M102.1 112.8h1.3 M66.7 118.6h1.3 M71.0 117.9h1.3 M73.2 119.3h1.3 M71.0 121.5h1.3 M81.1 119.3h1.3 M84.0 120.1h1.3 M94.9 120.1h1.3 M99.2 123.0h1.3 M59.4 121.5h1.3 M84.7 124.4h1.3 M53.6 128.0h1.3 M58.0 128.7h1.3 M69.6 129.5h1.3 M50.0 130.2h1.3 M79.0 132.4h1.3 M62.3 133.8h1.3 M38.5 134.5h1.3 M34.1 136.0h1.3 M50.0 135.0h1.3 M73.9 135.3h1.3 M67.4 136.0h1.3 M37.7 137.9h1.3 M47.9 138.1h1.3 M31.2 139.6h1.3 M66.7 141.0h1.3 M64.5 144.7h1.3 M61.6 150.2h1.3 M56.5 156.2h1.3 M55.8 161.0h1.3 M52.5 171.1h1.3" stroke="#45afe8" stroke-width="1.2" fill="none"/>
<rect x="0" y="0" width="130.2" height="198.2" fill="none" stroke="#8e8e8e" stroke-width="1"/>
</g>
<g transform="translate(-1.5,769.0)">
<use href="#landb" stroke="#d9d8f3" stroke-width="14" stroke-linejoin="round" stroke-linecap="butt"/>
<use href="#landb" stroke="#c6c4ea" stroke-width="11.5" stroke-linejoin="round"/>
<use href="#landb" stroke="#ada7d5" stroke-width="6.6" stroke-linejoin="round"/>
<use href="#countryp" fill="#f6f6f7"/>
<g clip-path="url(#cn)">
<use href="#p_hjfc" fill="#f7f5cd"/>
<use href="#p_liaoning" fill="#f7f5cd"/>
<use href="#p_shandong" fill="#f7f5cd"/>
<use href="#p_hebei" fill="#f7f5cd"/>
<use href="#p_anhui" fill="#f7f5cd"/>
<use href="#p_hubei" fill="#f7f5cd"/>
<use href="#p_sichuan" fill="#f7f5cd"/>
<use href="#p_jiangsu" fill="#ead18f"/>
<use href="#p_zhejiang" fill="#ead18f"/>
<use href="#p_guangdong" fill="#e89a5b"/>
<use href="#p_guizhou" fill="#f7f5cd"/>
<use href="#p_beijing" fill="#be4b49" stroke="#eef2e6" stroke-width="0.5"/>
<use href="#p_shanghai" fill="#8b2a2b"/>
<path d="M681.0 148.3 L666.0 153.3 L668.5 158.3 L683.5 164.5 L691.0 177.0 L699.8 184.5 L701.0 192.0 L708.5 194.5 L714.8 197.0 L714.8 204.5" fill="none" stroke="#4fb6ec" stroke-width="0.9"/>
<use href="#wlines" stroke="#fbfbf2" stroke-width="0.8" opacity="0.75"/>
<use href="#tj" stroke="#e9f1ea" stroke-width="0.8"/>
<use href="#qhl" fill="#bfe2f6" stroke="#3aa9e4" stroke-width="0.8"/>
<use href="#xkl" fill="#bfe2f6" stroke="#3aa9e4" stroke-width="0.6"/>
<use href="#rivt" stroke="#4fb6ec" stroke-width="0.85" stroke-linejoin="round"/>
<use href="#rivu" stroke="#36a9e6" stroke-width="1.0" stroke-linejoin="round"/>
<use href="#rivm" stroke="#25a2e0" stroke-width="1.3" stroke-linejoin="round"/>
<path d="M602.8 237.5 L604 243.6 L610.1 251 L615.6 256.5" fill="none" stroke="#5b5b52" stroke-width="1.1"/>
<use href="#lakes" stroke="#2ba3de" stroke-width="1.6" stroke-linejoin="round"/>
<circle cx="572.2" cy="261.2" r="1.3" fill="#e8212b"/>
</g>
<use href="#p_hainan" fill="#f6f6f7" stroke="#3aa9e4" stroke-width="0.9"/>
<use href="#p_taiwan" fill="#f3f3f6" stroke="#6fc0ee" stroke-width="0.9"/>
<use href="#coastp" stroke="#35a7e3" stroke-width="1.05" stroke-linejoin="round"/>
<use href="#landb1" stroke="#4d4a52" stroke-width="1.4" stroke-linejoin="round"/>
<use href="#landb2" stroke="#a39dcc" stroke-width="1.2" stroke-linejoin="round"/>
<use href="#landb2" stroke="#4d4a52" stroke-width="1.2" stroke-linejoin="round" stroke-dasharray="4 46"/>
<use href="#landb3" stroke="#4d4a52" stroke-width="1.4" stroke-linejoin="round"/>
<path d="M651.6 397.0 Q656 399.6 661.3 400.4" stroke="#5a2622" stroke-width="2.1" fill="none" stroke-linecap="round"/>
<path d="M690.5 517.5 L690.5 537.7 L697.0 537.7 L697.0 517.5Z" fill="#d4d1ee"/><path d="M690.5 517.5 L690.5 537.7 L693.4 537.7 L693.4 517.5Z" fill="#b4aed9"/><path d="M690.5 517.5 L690.5 537.7" stroke="#4b4650" stroke-width="1.4"/>
<path d="M683.8 568.9 L672.8 586.7 L677.9 589.9 L688.9 572.1Z" fill="#d4d1ee"/><path d="M683.8 568.9 L672.8 586.7 L675.1 588.1 L686.1 570.3Z" fill="#b4aed9"/><path d="M683.8 568.9 L672.8 586.7" stroke="#4b4650" stroke-width="1.4"/>
<path d="M655.6 619.1 L648.3 638.7 L653.9 640.8 L661.2 621.2Z" fill="#d4d1ee"/><path d="M655.6 619.1 L648.3 638.7 L650.8 639.6 L658.1 620.0Z" fill="#b4aed9"/><path d="M655.6 619.1 L648.3 638.7" stroke="#4b4650" stroke-width="1.4"/>
<path d="M668.0 415.0h1.2 M670.0 420.0h1.2 M672.0 428.0h1.2 M669.0 436.0h1.2 M667.0 446.0h1.2 M664.0 455.0h1.2 M660.0 463.0h1.2 M657.0 470.0h1.2 M649.0 478.0h1.2 M647.0 486.0h1.2 M643.0 492.0h1.2 M644.0 500.0h1.2 M640.0 507.0h1.2 M636.0 514.0h1.2 M632.0 519.0h1.2 M627.0 524.0h1.2 M622.0 529.0h1.2 M617.0 533.0h1.2 M611.0 538.0h1.2 M541.0 575.0h1.2 M548.0 571.0h1.2 M556.0 568.0h1.2 M527.0 583.0h1.2 M533.0 581.0h1.2 M452.0 592.0h1.2 M636.0 586.0h1.2 M650.0 592.0h1.2 M697.0 492.0h1.2 M706.0 488.0h1.2 M676.0 503.0h1.2 M641.0 537.0h1.2 M640.0 545.0h1.2 M610.0 300.0h1.2 M655.0 270.0h1.2 M660.0 268.0h1.2 M663.0 273.0h1.2 M666.0 275.0h1.2" stroke="#45afe8" stroke-width="1.2" fill="none"/>
</g>
<rect x="19.7" y="1272.3" width="17" height="7.5" fill="#8b2a2b" stroke="#6b6760" stroke-width="0.8"/>
<text x="46.7" y="1280.1" font-size="14.9" font-family="Liberation Sans, Arial, sans-serif" font-weight="bold" fill="#1a1311">≥81</text>
<rect x="19.7" y="1293.2" width="17" height="7.5" fill="#be4b49" stroke="#6b6760" stroke-width="0.8"/>
<text x="46.7" y="1301.0" font-size="14.9" font-family="Liberation Sans, Arial, sans-serif" font-weight="bold" fill="#1a1311">61~80</text>
<rect x="19.7" y="1314.2" width="17" height="7.5" fill="#e89a5b" stroke="#6b6760" stroke-width="0.8"/>
<text x="46.7" y="1322.0" font-size="14.9" font-family="Liberation Sans, Arial, sans-serif" font-weight="bold" fill="#1a1311">41~60</text>
<rect x="19.7" y="1335.1" width="17" height="7.5" fill="#ead18f" stroke="#6b6760" stroke-width="0.8"/>
<text x="46.7" y="1342.9" font-size="14.9" font-family="Liberation Sans, Arial, sans-serif" font-weight="bold" fill="#1a1311">21~40</text>
<rect x="19.7" y="1356.1" width="17" height="7.5" fill="#f7f5cd" stroke="#6b6760" stroke-width="0.8"/>
<text x="46.7" y="1363.9" font-size="14.9" font-family="Liberation Sans, Arial, sans-serif" font-weight="bold" fill="#1a1311">≤20</text>
<rect x="19.7" y="1377.0" width="17" height="7.5" fill="#f6f6f7" stroke="#6b6760" stroke-width="0.8"/>
<text x="46.7" y="1384.8" font-size="14.9" font-family="Liberation Sans, Arial, sans-serif" font-weight="bold" fill="#1a1311">No data</text>
<g transform="translate(765.9,1220.4)">
<clipPath id="icC"><rect x="0" y="0" width="130.2" height="198.2"/></clipPath>
<g clip-path="url(#icC)">
<path d="M-3.6 5.1 L0.0 6.5 L9.4 9.1 L12.3 16.6 L19.5 19.5" fill="none" stroke="#cfcced" stroke-width="7" transform="translate(-1.5,2.5)"/>
<path d="M-3.6 5.1 L0.0 6.5 L9.4 9.1 L12.3 16.6 L19.5 19.5" fill="none" stroke="#b1abd7" stroke-width="4" transform="translate(-0.8,1.4)"/>
<path d="M-0.7 -0.7 L48.5 -0.7 L45.6 5.1 L41.2 12.3 L36.9 18.1 L34.0 19.5 L28.2 19.8 L19.5 19.2 L12.3 16.6 L9.4 9.1 L0.0 6.5 L-0.7 6.2Z" fill="#f6f6f7" stroke="#3aa9e4" stroke-width="0.7"/>
<path d="M48.5 -0.7 L98.4 -0.7 L91.9 5.1 L83.2 9.4 L71.6 13.7 L62.9 16.6 L55.7 19.5 L45.6 21.7 L39.8 25.3 L40.5 29.7 L36.9 31.8 L33.3 29.7 L32.5 23.9 L34.0 19.5 L36.9 18.1 L41.2 12.3 L45.6 5.1Z" fill="#e89a5b"/>
<path d="M-3.6 5.1 L0.0 6.5 L9.4 9.1 L12.3 16.6 L19.5 19.5" fill="none" stroke="#4b4650" stroke-width="1.2"/>
<path d="M34.0 31.1 L40.5 30.4 L44.1 34.0 L41.9 39.8 L38.3 44.1 L32.5 48.5 L26.8 47.0 L24.2 42.7 L25.3 36.9 L28.9 33.3Z" fill="#f6f6f7" stroke="#6fc0ee" stroke-width="0.8"/>
<path d="M116.4 -0.7 L117.9 6.5 L120.8 12.3 L123.0 15.9 L125.1 9.4 L127.3 3.6 L128.0 -0.7Z" fill="#f3f3f6" stroke="#6fc0ee" stroke-width="0.8"/>
<path d="M48.5 6.5 L54.2 8.0 L60.0 7.2 L61.5 12.3 L64.4 15.9" fill="none" stroke="#2ba3de" stroke-width="0.9"/>
</g>
<g clip-path="url(#icC)">
<path d="M131.8 21.3 L128.9 26.3 L134.1 29.3 L137.0 24.2Z" fill="#d4d1ee"/><path d="M131.8 21.3 L128.9 26.3 L131.2 27.7 L134.1 22.6Z" fill="#b4aed9"/><path d="M128.7 19.5 L125.8 24.6" stroke="#4b4650" stroke-width="1.4"/>
</g>
<path d="M119.3 43.5 L116.4 49.3 L121.8 52.0 L124.7 46.2Z" fill="#d4d1ee"/><path d="M119.3 43.5 L116.4 49.3 L118.8 50.5 L121.7 44.7Z" fill="#b4aed9"/><path d="M116.2 41.9 L113.3 47.7" stroke="#4b4650" stroke-width="1.4"/>
<path d="M115.4 68.2 L115.1 74.7 L121.1 75.0 L121.4 68.5Z" fill="#d4d1ee"/><path d="M115.4 68.2 L115.1 74.7 L117.8 74.8 L118.1 68.3Z" fill="#b4aed9"/><path d="M110.4 68.0 L110.1 74.5" stroke="#4b4650" stroke-width="1.4"/>
<path d="M113.7 103.7 L110.8 109.8 L116.2 112.4 L119.1 106.3Z" fill="#d4d1ee"/><path d="M113.7 103.7 L110.8 109.8 L113.2 110.9 L116.1 104.9Z" fill="#b4aed9"/><path d="M110.1 102.0 L107.2 108.1" stroke="#4b4650" stroke-width="1.4"/>
<path d="M88.2 137.4 L83.2 142.5 L87.4 146.7 L92.5 141.7Z" fill="#d4d1ee"/><path d="M88.2 137.4 L83.2 142.5 L85.1 144.4 L90.1 139.3Z" fill="#b4aed9"/><path d="M88.2 137.4 L83.2 142.5" stroke="#4b4650" stroke-width="1.4"/>
<path d="M58.6 172.9 L52.8 175.0 L54.9 180.7 L60.7 178.5Z" fill="#d4d1ee"/><path d="M58.6 172.9 L52.8 175.0 L53.7 177.6 L59.5 175.4Z" fill="#b4aed9"/><path d="M58.6 172.9 L52.8 175.0" stroke="#4b4650" stroke-width="1.4"/>
<path d="M20.0 143.6 L20.0 150.2 L14.0 150.2 L14.0 143.6Z" fill="#d4d1ee"/><path d="M20.0 143.6 L20.0 150.2 L17.3 150.2 L17.3 143.6Z" fill="#b4aed9"/><path d="M20.0 143.6 L20.0 150.2" stroke="#4b4650" stroke-width="1.4"/>
<path d="M37.6 101.3 L36.6 107.5 L30.7 106.5 L31.7 100.3Z" fill="#d4d1ee"/><path d="M37.6 101.3 L36.6 107.5 L33.9 107.0 L34.9 100.8Z" fill="#b4aed9"/><path d="M37.6 101.3 L36.6 107.5" stroke="#4b4650" stroke-width="1.4"/>
<path d="M30.4 68.0 L33.7 73.8 L28.5 76.8 L25.2 71.0Z" fill="#d4d1ee"/><path d="M30.4 68.0 L33.7 73.8 L31.4 75.1 L28.0 69.3Z" fill="#b4aed9"/><path d="M30.4 68.0 L33.7 73.8" stroke="#4b4650" stroke-width="1.4"/>
<path d="M47.1 57.9h1.3 M52.9 59.3h1.3 M57.3 61.8h1.3 M48.6 62.9h1.3 M52.2 64.4h1.3 M49.3 65.8h1.3 M55.8 67.3h1.3 M45.0 69.4h1.3 M50.8 68.0h1.3 M71.0 65.8h1.3 M73.9 65.8h1.3 M67.4 68.7h1.3 M74.6 68.7h1.3 M66.7 71.6h1.3 M70.3 72.3h1.3 M73.2 70.9h1.3 M83.3 24.6h1.3 M96.3 27.1h1.3 M105.0 74.2h1.3 M133.2 9.4h1.3 M133.6 14.5h1.3 M97.0 102.0h1.3 M86.9 104.2h1.3 M71.0 106.3h1.3 M76.8 109.2h1.3 M68.8 110.7h1.3 M84.7 107.8h1.3 M101.4 109.2h1.3 M71.0 113.6h1.3 M82.6 112.1h1.3 M96.3 114.3h1.3 M102.1 112.8h1.3 M66.7 118.6h1.3 M71.0 117.9h1.3 M73.2 119.3h1.3 M71.0 121.5h1.3 M81.1 119.3h1.3 M84.0 120.1h1.3 M94.9 120.1h1.3 M99.2 123.0h1.3 M59.4 121.5h1.3 M84.7 124.4h1.3 M53.6 128.0h1.3 M58.0 128.7h1.3 M69.6 129.5h1.3 M50.0 130.2h1.3 M79.0 132.4h1.3 M62.3 133.8h1.3 M38.5 134.5h1.3 M34.1 136.0h1.3 M50.0 135.0h1.3 M73.9 135.3h1.3 M67.4 136.0h1.3 M37.7 137.9h1.3 M47.9 138.1h1.3 M31.2 139.6h1.3 M66.7 141.0h1.3 M64.5 144.7h1.3 M61.6 150.2h1.3 M56.5 156.2h1.3 M55.8 161.0h1.3 M52.5 171.1h1.3" stroke="#45afe8" stroke-width="1.2" fill="none"/>
<rect x="0" y="0" width="130.2" height="198.2" fill="none" stroke="#8e8e8e" stroke-width="1"/>
</g>
<text x="1.4" y="27.9" font-size="36.8" font-family="Liberation Sans, Arial, sans-serif" font-weight="bold" fill="#1a1311">A</text>
<text x="1048.6" y="27.9" font-size="36.8" font-family="Liberation Sans, Arial, sans-serif" font-weight="bold" fill="#1a1311">B</text>
<text x="1.5" y="782.4" font-size="36.8" font-family="Liberation Sans, Arial, sans-serif" font-weight="bold" fill="#1a1311">C</text>
<text x="980.5" y="721.0" font-size="34.6" font-family="Liberation Sans, Arial, sans-serif" font-weight="bold" fill="#1a1311">D</text>
<text x="1611.0" y="720.0" font-size="34.6" font-family="Liberation Sans, Arial, sans-serif" font-weight="bold" fill="#1a1311">E</text>
<text x="980.5" y="1130.0" font-size="34.6" font-family="Liberation Sans, Arial, sans-serif" font-weight="bold" fill="#1a1311">F</text>
<text x="1611.0" y="1130.0" font-size="34.6" font-family="Liberation Sans, Arial, sans-serif" font-weight="bold" fill="#1a1311">G</text>
<text x="1175.2" y="763.4" font-size="14.2" font-family="Liberation Sans, Arial, sans-serif" font-weight="bold" fill="#1a1311" text-anchor="end">Pluripotent stem cells</text>
<rect x="1187.80" y="751.08" width="10.96" height="15.50" fill="#8497b0"/>
<rect x="1200.86" y="751.08" width="7.36" height="15.50" fill="#5b9bd5"/>
<rect x="1210.32" y="751.08" width="7.36" height="15.50" fill="#4472c4"/>
<text x="1175.2" y="797.1" font-size="14.2" font-family="Liberation Sans, Arial, sans-serif" font-weight="bold" fill="#1a1311" text-anchor="end">Functional mature/differentiated cells</text>
<rect x="1187.80" y="784.73" width="64.56" height="15.50" fill="#8497b0"/>
<rect x="1254.46" y="784.73" width="7.36" height="15.50" fill="#5b9bd5"/>
<rect x="1263.92" y="784.73" width="13.66" height="15.50" fill="#4472c4"/>
<rect x="1279.69" y="784.73" width="4.21" height="15.50" fill="#548235"/>
<rect x="1285.99" y="784.73" width="1.05" height="15.50" fill="#7f7f7f"/>
<text x="1175.2" y="830.7" font-size="14.2" font-family="Liberation Sans, Arial, sans-serif" font-weight="bold" fill="#1a1311" text-anchor="end">Perinatal</text>
<rect x="1187.80" y="818.38" width="61.41" height="15.50" fill="#8497b0"/>
<rect x="1251.31" y="818.38" width="29.43" height="15.50" fill="#5b9bd5"/>
<rect x="1282.84" y="818.38" width="7.36" height="15.50" fill="#4472c4"/>
<rect x="1292.30" y="818.38" width="4.21" height="15.50" fill="#548235"/>
<text x="1175.2" y="864.4" font-size="14.2" font-family="Liberation Sans, Arial, sans-serif" font-weight="bold" fill="#1a1311" text-anchor="end">Adult stem/progenitor cells</text>
<rect x="1187.80" y="852.02" width="17.27" height="15.50" fill="#8497b0"/>
<rect x="1207.17" y="852.02" width="7.36" height="15.50" fill="#5b9bd5"/>
<rect x="1216.63" y="852.02" width="19.97" height="15.50" fill="#4472c4"/>
<rect x="1238.70" y="852.02" width="4.21" height="15.50" fill="#548235"/>
<rect x="1245.00" y="852.02" width="1.05" height="15.50" fill="#7f7f7f"/>
<text x="1175.2" y="898.0" font-size="14.2" font-family="Liberation Sans, Arial, sans-serif" font-weight="bold" fill="#1a1311" text-anchor="end">Oncolytic viruses</text>
<rect x="1187.80" y="885.67" width="96.09" height="15.50" fill="#8497b0"/>
<rect x="1285.99" y="885.67" width="23.12" height="15.50" fill="#5b9bd5"/>
<rect x="1311.22" y="885.67" width="23.12" height="15.50" fill="#4472c4"/>
<rect x="1336.44" y="885.67" width="4.21" height="15.50" fill="#548235"/>
<text x="1175.2" y="931.7" font-size="14.2" font-family="Liberation Sans, Arial, sans-serif" font-weight="bold" fill="#1a1311" text-anchor="end">Therapeutic vaccines</text>
<rect x="1187.80" y="919.33" width="7.81" height="15.50" fill="#8497b0"/>
<rect x="1197.71" y="919.33" width="7.36" height="15.50" fill="#4472c4"/>
<rect x="1207.17" y="919.33" width="1.68" height="15.50" fill="#548235"/>
<text x="1175.2" y="965.3" font-size="14.2" font-family="Liberation Sans, Arial, sans-serif" font-weight="bold" fill="#1a1311" text-anchor="end">Vectors expressing transgenes</text>
<rect x="1187.80" y="952.98" width="48.80" height="15.50" fill="#8497b0"/>
<rect x="1238.70" y="952.98" width="70.42" height="15.50" fill="#5b9bd5"/>
<rect x="1311.22" y="952.98" width="10.51" height="15.50" fill="#70ad47"/>
<rect x="1323.83" y="952.98" width="19.97" height="15.50" fill="#4472c4"/>
<rect x="1345.90" y="952.98" width="23.12" height="15.50" fill="#548235"/>
<rect x="1371.12" y="952.98" width="4.21" height="15.50" fill="#7f7f7f"/>
<text x="1175.2" y="999.0" font-size="14.2" font-family="Liberation Sans, Arial, sans-serif" font-weight="bold" fill="#1a1311" text-anchor="end">Gene-modified cells</text>
<rect x="1187.80" y="986.62" width="184.38" height="15.50" fill="#8497b0"/>
<rect x="1374.28" y="986.62" width="86.18" height="15.50" fill="#5b9bd5"/>
<rect x="1462.56" y="986.62" width="57.81" height="15.50" fill="#4472c4"/>
<rect x="1522.47" y="986.62" width="4.21" height="15.50" fill="#548235"/>
<rect x="1528.77" y="986.62" width="7.36" height="15.50" fill="#f5b81c"/>
<rect x="1538.23" y="986.62" width="17.76" height="15.50" fill="#7f7f7f"/>
<path d="M1187.2 742.0 V1011.2 H1565.6" fill="none" stroke="#2b2b2b" stroke-width="1.3"/>
<path d="M1187.2 742.0 h-4" stroke="#2b2b2b" stroke-width="1.3"/>
<path d="M1187.2 775.6 h-4" stroke="#2b2b2b" stroke-width="1.3"/>
<path d="M1187.2 809.3 h-4" stroke="#2b2b2b" stroke-width="1.3"/>
<path d="M1187.2 843.0 h-4" stroke="#2b2b2b" stroke-width="1.3"/>
<path d="M1187.2 876.6 h-4" stroke="#2b2b2b" stroke-width="1.3"/>
<path d="M1187.2 910.2 h-4" stroke="#2b2b2b" stroke-width="1.3"/>
<path d="M1187.2 943.9 h-4" stroke="#2b2b2b" stroke-width="1.3"/>
<path d="M1187.2 977.6 h-4" stroke="#2b2b2b" stroke-width="1.3"/>
<path d="M1187.2 1011.2 h-4" stroke="#2b2b2b" stroke-width="1.3"/>
<path d="M1187.2 1011.2 v-4" stroke="#2b2b2b" stroke-width="1.3"/>
<text x="1187.2" y="1033.5" font-size="14.2" font-family="Liberation Sans, Arial, sans-serif" font-weight="bold" fill="#1a1311" text-anchor="middle">0</text>
<path d="M1250.3 1011.2 v-4" stroke="#2b2b2b" stroke-width="1.3"/>
<text x="1250.3" y="1033.5" font-size="14.2" font-family="Liberation Sans, Arial, sans-serif" font-weight="bold" fill="#1a1311" text-anchor="middle">20</text>
<path d="M1313.3 1011.2 v-4" stroke="#2b2b2b" stroke-width="1.3"/>
<text x="1313.3" y="1033.5" font-size="14.2" font-family="Liberation Sans, Arial, sans-serif" font-weight="bold" fill="#1a1311" text-anchor="middle">40</text>
<path d="M1376.4 1011.2 v-4" stroke="#2b2b2b" stroke-width="1.3"/>
<text x="1376.4" y="1033.5" font-size="14.2" font-family="Liberation Sans, Arial, sans-serif" font-weight="bold" fill="#1a1311" text-anchor="middle">60</text>
<path d="M1439.4 1011.2 v-4" stroke="#2b2b2b" stroke-width="1.3"/>
<text x="1439.4" y="1033.5" font-size="14.2" font-family="Liberation Sans, Arial, sans-serif" font-weight="bold" fill="#1a1311" text-anchor="middle">80</text>
<path d="M1502.5 1011.2 v-4" stroke="#2b2b2b" stroke-width="1.3"/>
<text x="1502.5" y="1033.5" font-size="14.2" font-family="Liberation Sans, Arial, sans-serif" font-weight="bold" fill="#1a1311" text-anchor="middle">100</text>
<path d="M1565.6 1011.2 v-4" stroke="#2b2b2b" stroke-width="1.3"/>
<text x="1565.6" y="1033.5" font-size="14.2" font-family="Liberation Sans, Arial, sans-serif" font-weight="bold" fill="#1a1311" text-anchor="middle">120</text>
<rect x="1131.3" y="1052.5" width="5.8" height="5.8" fill="#8497b0"/>
<text x="1141.1" y="1060.9" font-size="14.2" font-family="Liberation Sans, Arial, sans-serif" font-weight="bold" fill="#1a1311">I</text>
<rect x="1155.6" y="1052.5" width="5.8" height="5.8" fill="#5b9bd5"/>
<text x="1164.1" y="1060.9" font-size="14.2" font-family="Liberation Sans, Arial, sans-serif" font-weight="bold" fill="#1a1311">I/II</text>
<rect x="1191.8" y="1052.5" width="5.8" height="5.8" fill="#70ad47"/>
<text x="1200.0" y="1060.9" font-size="14.2" font-family="Liberation Sans, Arial, sans-serif" font-weight="bold" fill="#1a1311">I/II/III</text>
<rect x="1243.1" y="1052.5" width="5.8" height="5.8" fill="#4472c4"/>
<text x="1251.3" y="1060.9" font-size="14.2" font-family="Liberation Sans, Arial, sans-serif" font-weight="bold" fill="#1a1311">II</text>
<rect x="1270.1" y="1052.5" width="5.8" height="5.8" fill="#548235"/>
<text x="1279.3" y="1060.9" font-size="14.2" font-family="Liberation Sans, Arial, sans-serif" font-weight="bold" fill="#1a1311">III</text>
<rect x="1300.7" y="1052.5" width="5.8" height="5.8" fill="#f5b81c"/>
<text x="1310.5" y="1060.9" font-size="14.2" font-family="Liberation Sans, Arial, sans-serif" font-weight="bold" fill="#1a1311">IV</text>
<rect x="1333.6" y="1052.5" width="5.8" height="5.8" fill="#7f7f7f"/>
<text x="1343.4" y="1060.9" font-size="14.2" font-family="Liberation Sans, Arial, sans-serif" font-weight="bold" fill="#1a1311">Other</text>
<text x="1176.2" y="1181.8" font-size="14.2" font-family="Liberation Sans, Arial, sans-serif" font-weight="bold" fill="#1a1311" text-anchor="end">Pluripotent stem cells</text>
<rect x="1191.40" y="1169.50" width="1.70" height="15.50" fill="#5b9bd5"/>
<text x="1176.2" y="1215.5" font-size="14.2" font-family="Liberation Sans, Arial, sans-serif" font-weight="bold" fill="#1a1311" text-anchor="end">Functional mature/differentiated cells</text>
<rect x="1189.20" y="1203.20" width="18.90" height="15.50" fill="#d6dce5"/>
<rect x="1210.30" y="1203.20" width="12.70" height="15.50" fill="#8497b0"/>
<rect x="1225.00" y="1203.20" width="5.70" height="15.50" fill="#5b9bd5"/>
<rect x="1232.90" y="1203.20" width="3.70" height="15.50" fill="#3f5fae"/>
<text x="1176.2" y="1249.2" font-size="14.2" font-family="Liberation Sans, Arial, sans-serif" font-weight="bold" fill="#1a1311" text-anchor="end">Perinatal</text>
<rect x="1189.20" y="1236.90" width="3.40" height="15.50" fill="#d6dce5"/>
<rect x="1194.90" y="1236.90" width="6.40" height="15.50" fill="#8497b0"/>
<rect x="1203.40" y="1236.90" width="9.90" height="15.50" fill="#5b9bd5"/>
<rect x="1216.40" y="1236.90" width="1.40" height="15.50" fill="#9bb56a"/>
<text x="1176.2" y="1283.0" font-size="14.2" font-family="Liberation Sans, Arial, sans-serif" font-weight="bold" fill="#1a1311" text-anchor="end">Adult stem/progenitor cells</text>
<rect x="1189.20" y="1270.60" width="3.90" height="15.50" fill="#d6dce5"/>
<rect x="1195.00" y="1270.60" width="0.70" height="15.50" fill="#e2e6f0"/>
<rect x="1197.10" y="1270.60" width="3.90" height="15.50" fill="#5b9bd5"/>
<rect x="1202.90" y="1270.60" width="0.70" height="15.50" fill="#e2e6f0"/>
<text x="1176.2" y="1316.6" font-size="14.2" font-family="Liberation Sans, Arial, sans-serif" font-weight="bold" fill="#1a1311" text-anchor="end">Oncolytic viruses</text>
<rect x="1189.20" y="1304.30" width="3.90" height="15.50" fill="#d6dce5"/>
<rect x="1195.20" y="1304.30" width="12.70" height="15.50" fill="#8497b0"/>
<rect x="1211.00" y="1304.30" width="3.50" height="15.50" fill="#3f5fae"/>
<text x="1176.2" y="1350.3" font-size="14.2" font-family="Liberation Sans, Arial, sans-serif" font-weight="bold" fill="#1a1311" text-anchor="end">Therapeutic vaccines</text>
<rect x="1191.00" y="1338.00" width="1.10" height="15.50" fill="#8497b0"/>
<text x="1176.2" y="1384.0" font-size="14.2" font-family="Liberation Sans, Arial, sans-serif" font-weight="bold" fill="#1a1311" text-anchor="end">Vectors expressing transgenes</text>
<rect x="1189.20" y="1371.70" width="9.50" height="15.50" fill="#d6dce5"/>
<rect x="1200.80" y="1371.70" width="4.10" height="15.50" fill="#8497b0"/>
<rect x="1207.20" y="1371.70" width="3.80" height="15.50" fill="#5b9bd5"/>
<rect x="1213.10" y="1371.70" width="1.10" height="15.50" fill="#3f5fae"/>
<rect x="1217.30" y="1371.70" width="5.70" height="15.50" fill="#7f7f7f"/>
<text x="1176.2" y="1417.8" font-size="14.2" font-family="Liberation Sans, Arial, sans-serif" font-weight="bold" fill="#1a1311" text-anchor="end">Gene-modified cells</text>
<rect x="1189.20" y="1405.40" width="81.50" height="15.50" fill="#d6dce5"/>
<rect x="1272.70" y="1405.40" width="165.10" height="15.50" fill="#8497b0"/>
<rect x="1439.80" y="1405.40" width="72.40" height="15.50" fill="#5b9bd5"/>
<rect x="1514.10" y="1405.40" width="15.20" height="15.50" fill="#3f5fae"/>
<rect x="1534.20" y="1405.40" width="32.60" height="15.50" fill="#7f7f7f"/>
<path d="M1188.4 1160.4 V1430.0 H1567.0" fill="none" stroke="#2b2b2b" stroke-width="1.3"/>
<path d="M1188.4 1160.4 h-4" stroke="#2b2b2b" stroke-width="1.3"/>
<path d="M1188.4 1194.1 h-4" stroke="#2b2b2b" stroke-width="1.3"/>
<path d="M1188.4 1227.8 h-4" stroke="#2b2b2b" stroke-width="1.3"/>
<path d="M1188.4 1261.5 h-4" stroke="#2b2b2b" stroke-width="1.3"/>
<path d="M1188.4 1295.2 h-4" stroke="#2b2b2b" stroke-width="1.3"/>
<path d="M1188.4 1328.9 h-4" stroke="#2b2b2b" stroke-width="1.3"/>
<path d="M1188.4 1362.6 h-4" stroke="#2b2b2b" stroke-width="1.3"/>
<path d="M1188.4 1396.3 h-4" stroke="#2b2b2b" stroke-width="1.3"/>
<path d="M1188.4 1430.0 h-4" stroke="#2b2b2b" stroke-width="1.3"/>
<path d="M1188.4 1430.0 v-4" stroke="#2b2b2b" stroke-width="1.3"/>
<text x="1188.4" y="1452.3" font-size="14.2" font-family="Liberation Sans, Arial, sans-serif" font-weight="bold" fill="#1a1311" text-anchor="middle">0</text>
<path d="M1242.5 1430.0 v-4" stroke="#2b2b2b" stroke-width="1.3"/>
<text x="1242.5" y="1452.3" font-size="14.2" font-family="Liberation Sans, Arial, sans-serif" font-weight="bold" fill="#1a1311" text-anchor="middle">100</text>
<path d="M1296.6 1430.0 v-4" stroke="#2b2b2b" stroke-width="1.3"/>
<text x="1296.6" y="1452.3" font-size="14.2" font-family="Liberation Sans, Arial, sans-serif" font-weight="bold" fill="#1a1311" text-anchor="middle">200</text>
<path d="M1350.7 1430.0 v-4" stroke="#2b2b2b" stroke-width="1.3"/>
<text x="1350.7" y="1452.3" font-size="14.2" font-family="Liberation Sans, Arial, sans-serif" font-weight="bold" fill="#1a1311" text-anchor="middle">300</text>
<path d="M1404.8 1430.0 v-4" stroke="#2b2b2b" stroke-width="1.3"/>
<text x="1404.8" y="1452.3" font-size="14.2" font-family="Liberation Sans, Arial, sans-serif" font-weight="bold" fill="#1a1311" text-anchor="middle">400</text>
<path d="M1458.9 1430.0 v-4" stroke="#2b2b2b" stroke-width="1.3"/>
<text x="1458.9" y="1452.3" font-size="14.2" font-family="Liberation Sans, Arial, sans-serif" font-weight="bold" fill="#1a1311" text-anchor="middle">500</text>
<path d="M1512.9 1430.0 v-4" stroke="#2b2b2b" stroke-width="1.3"/>
<text x="1512.9" y="1452.3" font-size="14.2" font-family="Liberation Sans, Arial, sans-serif" font-weight="bold" fill="#1a1311" text-anchor="middle">600</text>
<path d="M1567.0 1430.0 v-4" stroke="#2b2b2b" stroke-width="1.3"/>
<text x="1567.0" y="1452.3" font-size="14.2" font-family="Liberation Sans, Arial, sans-serif" font-weight="bold" fill="#1a1311" text-anchor="middle">700</text>
<rect x="1085.2" y="1471.4" width="5.8" height="5.8" fill="#d6dce5"/>
<text x="1094.7" y="1479.8" font-size="14.2" font-family="Liberation Sans, Arial, sans-serif" font-weight="bold" fill="#1a1311">Early phase I</text>
<rect x="1193.8" y="1471.4" width="5.8" height="5.8" fill="#8497b0"/>
<text x="1203.3" y="1479.8" font-size="14.2" font-family="Liberation Sans, Arial, sans-serif" font-weight="bold" fill="#1a1311">I</text>
<rect x="1219.1" y="1471.4" width="5.8" height="5.8" fill="#5b9bd5"/>
<text x="1228.0" y="1479.8" font-size="14.2" font-family="Liberation Sans, Arial, sans-serif" font-weight="bold" fill="#1a1311">I/II</text>
<rect x="1255.3" y="1471.4" width="5.8" height="5.8" fill="#4472c4"/>
<text x="1265.1" y="1479.8" font-size="14.2" font-family="Liberation Sans, Arial, sans-serif" font-weight="bold" fill="#1a1311">II</text>
<rect x="1283.9" y="1471.4" width="5.8" height="5.8" fill="#70ad47"/>
<text x="1293.8" y="1479.8" font-size="14.2" font-family="Liberation Sans, Arial, sans-serif" font-weight="bold" fill="#1a1311">II/III</text>
<rect x="1328.6" y="1471.4" width="5.8" height="5.8" fill="#548235"/>
<text x="1338.5" y="1479.8" font-size="14.2" font-family="Liberation Sans, Arial, sans-serif" font-weight="bold" fill="#1a1311">III</text>
<rect x="1361.5" y="1471.4" width="5.8" height="5.8" fill="#f5b81c"/>
<text x="1371.4" y="1479.8" font-size="14.2" font-family="Liberation Sans, Arial, sans-serif" font-weight="bold" fill="#1a1311">IV</text>
<rect x="1396.1" y="1471.4" width="5.8" height="5.8" fill="#7f7f7f"/>
<text x="1405.6" y="1479.8" font-size="14.2" font-family="Liberation Sans, Arial, sans-serif" font-weight="bold" fill="#1a1311">N/A</text>
<path d="M1856.3 891.8 L1856.3 787.6 A104.2 104.2 0 0 1 1909.5 802.2 Z" fill="#a9b020" stroke="#fff" stroke-width="2.4" stroke-linejoin="round"/>
<path d="M1856.3 891.8 L1909.5 802.2 A104.2 104.2 0 0 1 1948.8 843.8 Z" fill="#dbd638" stroke="#fff" stroke-width="2.4" stroke-linejoin="round"/>
<path d="M1856.3 891.8 L1948.8 843.8 A104.2 104.2 0 0 1 1960.3 898.7 Z" fill="#b3c46c" stroke="#fff" stroke-width="2.4" stroke-linejoin="round"/>
<path d="M1856.3 891.8 L1960.3 898.7 A104.2 104.2 0 0 1 1941.8 951.4 Z" fill="#adcb8f" stroke="#fff" stroke-width="2.4" stroke-linejoin="round"/>
<path d="M1856.3 891.8 L1941.8 951.4 A104.2 104.2 0 0 1 1921.3 973.2 Z" fill="#bfbfbf" stroke="#fff" stroke-width="2.4" stroke-linejoin="round"/>
<path d="M1856.3 891.8 L1921.3 973.2 A104.2 104.2 0 1 1 1802.6 802.5 Z" fill="#3d4922" stroke="#fff" stroke-width="2.4" stroke-linejoin="round"/>
<path d="M1856.3 891.8 L1802.6 802.5 A104.2 104.2 0 0 1 1856.3 787.6 Z" fill="#697230" stroke="#fff" stroke-width="2.4" stroke-linejoin="round"/>
<text x="1771.5" y="773.8" font-size="14.7" font-family="Liberation Sans, Arial, sans-serif" font-weight="bold" fill="#1a1311" text-anchor="middle">Gene-</text>
<text x="1771.5" y="790.9" font-size="14.7" font-family="Liberation Sans, Arial, sans-serif" font-weight="bold" fill="#1a1311" text-anchor="middle">modified</text>
<text x="1771.5" y="808.0" font-size="14.7" font-family="Liberation Sans, Arial, sans-serif" font-weight="bold" fill="#1a1311" text-anchor="middle">cells</text>
<text x="1917.5" y="772.8" font-size="14.7" font-family="Liberation Sans, Arial, sans-serif" font-weight="bold" fill="#1a1311" text-anchor="start">Functional</text>
<text x="1917.5" y="789.9" font-size="14.7" font-family="Liberation Sans, Arial, sans-serif" font-weight="bold" fill="#1a1311" text-anchor="start">mature/differentiated</text>
<text x="1917.5" y="807.0" font-size="14.7" font-family="Liberation Sans, Arial, sans-serif" font-weight="bold" fill="#1a1311" text-anchor="start">cells</text>
<text x="1981.5" y="839.8" font-size="14.7" font-family="Liberation Sans, Arial, sans-serif" font-weight="bold" fill="#1a1311" text-anchor="start">Perinatal</text>
<text x="1980.0" y="868.4" font-size="14.7" font-family="Liberation Sans, Arial, sans-serif" font-weight="bold" fill="#1a1311" text-anchor="start">Adult stem/</text>
<text x="1980.0" y="885.5" font-size="14.7" font-family="Liberation Sans, Arial, sans-serif" font-weight="bold" fill="#1a1311" text-anchor="start">progenitor cells</text>
<text x="1993.0" y="927.8" font-size="14.7" font-family="Liberation Sans, Arial, sans-serif" font-weight="bold" fill="#1a1311" text-anchor="middle">Oncolytic</text>
<text x="1993.0" y="944.9" font-size="14.7" font-family="Liberation Sans, Arial, sans-serif" font-weight="bold" fill="#1a1311" text-anchor="middle">viruses</text>
<text x="1976.5" y="980.4" font-size="14.7" font-family="Liberation Sans, Arial, sans-serif" font-weight="bold" fill="#1a1311" text-anchor="middle">Therapeutic</text>
<text x="1976.5" y="997.5" font-size="14.7" font-family="Liberation Sans, Arial, sans-serif" font-weight="bold" fill="#1a1311" text-anchor="middle">vaccines</text>
<text x="1656.0" y="925.8" font-size="14.7" font-family="Liberation Sans, Arial, sans-serif" font-weight="bold" fill="#1a1311" text-anchor="start">Vectors</text>
<text x="1656.0" y="942.9" font-size="14.7" font-family="Liberation Sans, Arial, sans-serif" font-weight="bold" fill="#1a1311" text-anchor="start">expressing</text>
<text x="1656.0" y="960.0" font-size="14.7" font-family="Liberation Sans, Arial, sans-serif" font-weight="bold" fill="#1a1311" text-anchor="start">transgenes</text>
<path d="M1806 790 L1818 790.5 L1827 791.5" fill="none" stroke="#a6a6a6" stroke-width="0.9"/>
<path d="M1884 791 L1900 790 L1914 789.5" fill="none" stroke="#a6a6a6" stroke-width="0.9"/>
<path d="M1932 820.5 L1945 826 L1971 838 L1979 840" fill="none" stroke="#a6a6a6" stroke-width="0.9"/>
<path d="M1960 874.5 L1974 872.5" fill="none" stroke="#a6a6a6" stroke-width="0.9"/>
<path d="M1740 946.5 L1762 940" fill="none" stroke="#a6a6a6" stroke-width="0.9"/>
<path d="M1686.5 1413.4 L1686.5 1284.8 L1737.6 1210.8 L1788.8 1307.6 L1839.9 1379.0 L1891.1 1410.4 L1942.2 1408.8 L1993.4 1411.9 L2044.5 1367.8 L2044.5 1413.4 Z" fill="#c3c2c4"/>
<rect x="1676.3" y="1160.2" width="20.1" height="41.0" fill="#adc566" stroke="#2f4a1f" stroke-width="0.7"/>
<rect x="1676.3" y="1201.2" width="20.1" height="212.2" fill="#4a8038" stroke="#2f4a1f" stroke-width="0.7"/>
<rect x="1727.5" y="1160.2" width="20.1" height="67.6" fill="#adc566" stroke="#2f4a1f" stroke-width="0.7"/>
<rect x="1727.5" y="1227.8" width="20.1" height="185.6" fill="#4a8038" stroke="#2f4a1f" stroke-width="0.7"/>
<rect x="1778.6" y="1160.2" width="20.1" height="61.8" fill="#adc566" stroke="#2f4a1f" stroke-width="0.7"/>
<rect x="1778.6" y="1222.0" width="20.1" height="191.4" fill="#4a8038" stroke="#2f4a1f" stroke-width="0.7"/>
<rect x="1829.8" y="1160.2" width="20.1" height="104.8" fill="#adc566" stroke="#2f4a1f" stroke-width="0.7"/>
<rect x="1829.8" y="1265.0" width="20.1" height="148.4" fill="#4a8038" stroke="#2f4a1f" stroke-width="0.7"/>
<rect x="1880.9" y="1160.2" width="20.1" height="253.2" fill="#4a8038" stroke="#2f4a1f" stroke-width="0.7"/>
<rect x="1932.1" y="1160.2" width="20.1" height="161.0" fill="#adc566" stroke="#2f4a1f" stroke-width="0.7"/>
<rect x="1932.1" y="1321.2" width="20.1" height="92.2" fill="#4a8038" stroke="#2f4a1f" stroke-width="0.7"/>
<rect x="1983.2" y="1160.2" width="20.1" height="253.2" fill="#adc566" stroke="#2f4a1f" stroke-width="0.7"/>
<rect x="2034.3" y="1160.2" width="20.1" height="19.7" fill="#adc566" stroke="#2f4a1f" stroke-width="0.7"/>
<rect x="2034.3" y="1179.9" width="20.1" height="233.5" fill="#4a8038" stroke="#2f4a1f" stroke-width="0.7"/>
<path d="M1660.9 1160.2 V1413.4 H2070.1 V1160.2" fill="none" stroke="#3a3a3a" stroke-width="1.1"/>
<path d="M1660.9 1413.4 h-4" stroke="#3a3a3a" stroke-width="1.1"/><path d="M2070.1 1413.4 h-4" stroke="#3a3a3a" stroke-width="1.1"/>
<text x="1647.5" y="1418.6" font-size="14.3" font-family="Liberation Sans, Arial, sans-serif" font-weight="bold" fill="#1a1311" text-anchor="end">0%</text>
<text x="2082.0" y="1418.6" font-size="14.3" font-family="Liberation Sans, Arial, sans-serif" font-weight="bold" fill="#1a1311">0</text>
<path d="M1660.9 1362.8 h-4" stroke="#3a3a3a" stroke-width="1.1"/><path d="M2070.1 1362.8 h-4" stroke="#3a3a3a" stroke-width="1.1"/>
<text x="1647.5" y="1368.0" font-size="14.3" font-family="Liberation Sans, Arial, sans-serif" font-weight="bold" fill="#1a1311" text-anchor="end">20%</text>
<text x="2082.0" y="1368.0" font-size="14.3" font-family="Liberation Sans, Arial, sans-serif" font-weight="bold" fill="#1a1311">100</text>
<path d="M1660.9 1312.1 h-4" stroke="#3a3a3a" stroke-width="1.1"/><path d="M2070.1 1312.1 h-4" stroke="#3a3a3a" stroke-width="1.1"/>
<text x="1647.5" y="1317.3" font-size="14.3" font-family="Liberation Sans, Arial, sans-serif" font-weight="bold" fill="#1a1311" text-anchor="end">40%</text>
<text x="2082.0" y="1317.3" font-size="14.3" font-family="Liberation Sans, Arial, sans-serif" font-weight="bold" fill="#1a1311">200</text>
<path d="M1660.9 1261.5 h-4" stroke="#3a3a3a" stroke-width="1.1"/><path d="M2070.1 1261.5 h-4" stroke="#3a3a3a" stroke-width="1.1"/>
<text x="1647.5" y="1266.7" font-size="14.3" font-family="Liberation Sans, Arial, sans-serif" font-weight="bold" fill="#1a1311" text-anchor="end">60%</text>
<text x="2082.0" y="1266.7" font-size="14.3" font-family="Liberation Sans, Arial, sans-serif" font-weight="bold" fill="#1a1311">300</text>
<path d="M1660.9 1210.8 h-4" stroke="#3a3a3a" stroke-width="1.1"/><path d="M2070.1 1210.8 h-4" stroke="#3a3a3a" stroke-width="1.1"/>
<text x="1647.5" y="1216.0" font-size="14.3" font-family="Liberation Sans, Arial, sans-serif" font-weight="bold" fill="#1a1311" text-anchor="end">80%</text>
<text x="2082.0" y="1216.0" font-size="14.3" font-family="Liberation Sans, Arial, sans-serif" font-weight="bold" fill="#1a1311">400</text>
<path d="M1660.9 1160.2 h-4" stroke="#3a3a3a" stroke-width="1.1"/><path d="M2070.1 1160.2 h-4" stroke="#3a3a3a" stroke-width="1.1"/>
<text x="1647.5" y="1165.4" font-size="14.3" font-family="Liberation Sans, Arial, sans-serif" font-weight="bold" fill="#1a1311" text-anchor="end">100%</text>
<text x="2082.0" y="1165.4" font-size="14.3" font-family="Liberation Sans, Arial, sans-serif" font-weight="bold" fill="#1a1311">500</text>
<text x="1686.5" y="1436.0" font-size="14.3" font-family="Liberation Sans, Arial, sans-serif" font-weight="bold" fill="#1a1311" text-anchor="middle">Early</text>
<text x="1686.5" y="1452.8" font-size="14.3" font-family="Liberation Sans, Arial, sans-serif" font-weight="bold" fill="#1a1311" text-anchor="middle">phase I</text>
<text x="1737.6" y="1436.0" font-size="14.3" font-family="Liberation Sans, Arial, sans-serif" font-weight="bold" fill="#1a1311" text-anchor="middle">I</text>
<text x="1788.8" y="1436.0" font-size="14.3" font-family="Liberation Sans, Arial, sans-serif" font-weight="bold" fill="#1a1311" text-anchor="middle">I/II</text>
<text x="1839.9" y="1436.0" font-size="14.3" font-family="Liberation Sans, Arial, sans-serif" font-weight="bold" fill="#1a1311" text-anchor="middle">II</text>
<text x="1891.1" y="1436.0" font-size="14.3" font-family="Liberation Sans, Arial, sans-serif" font-weight="bold" fill="#1a1311" text-anchor="middle">II/III</text>
<text x="1942.2" y="1436.0" font-size="14.3" font-family="Liberation Sans, Arial, sans-serif" font-weight="bold" fill="#1a1311" text-anchor="middle">III</text>
<text x="1993.4" y="1436.0" font-size="14.3" font-family="Liberation Sans, Arial, sans-serif" font-weight="bold" fill="#1a1311" text-anchor="middle">IV</text>
<text x="2044.5" y="1436.0" font-size="14.3" font-family="Liberation Sans, Arial, sans-serif" font-weight="bold" fill="#1a1311" text-anchor="middle">N/A</text>
<text transform="translate(1604.5,1287) rotate(-90)" font-size="14.3" font-family="Liberation Sans, Arial, sans-serif" font-weight="bold" fill="#1a1311" text-anchor="middle">Percentage</text>
<text transform="translate(2123,1287) rotate(-90)" font-size="14.3" font-family="Liberation Sans, Arial, sans-serif" font-weight="bold" fill="#1a1311" text-anchor="middle">No. of Clinical Trials</text>
<rect x="1725" y="1471" width="8.5" height="8.5" fill="#c3c2c4"/><text x="1736.5" y="1480.2" font-size="14.3" font-family="Liberation Sans, Arial, sans-serif" font-weight="bold" fill="#1a1311">Total</text>
<rect x="1785.5" y="1471" width="8.5" height="8.5" fill="#4a8038"/><text x="1796.5" y="1480.2" font-size="14.3" font-family="Liberation Sans, Arial, sans-serif" font-weight="bold" fill="#1a1311">Monotherapy</text>
<rect x="1901.5" y="1471" width="8" height="8" fill="#adc566" stroke="#2f4a1f" stroke-width="0.7"/><text x="1912" y="1480.2" font-size="14.3" font-family="Liberation Sans, Arial, sans-serif" font-weight="bold" fill="#1a1311">Combination</text>
</svg></body></html>
